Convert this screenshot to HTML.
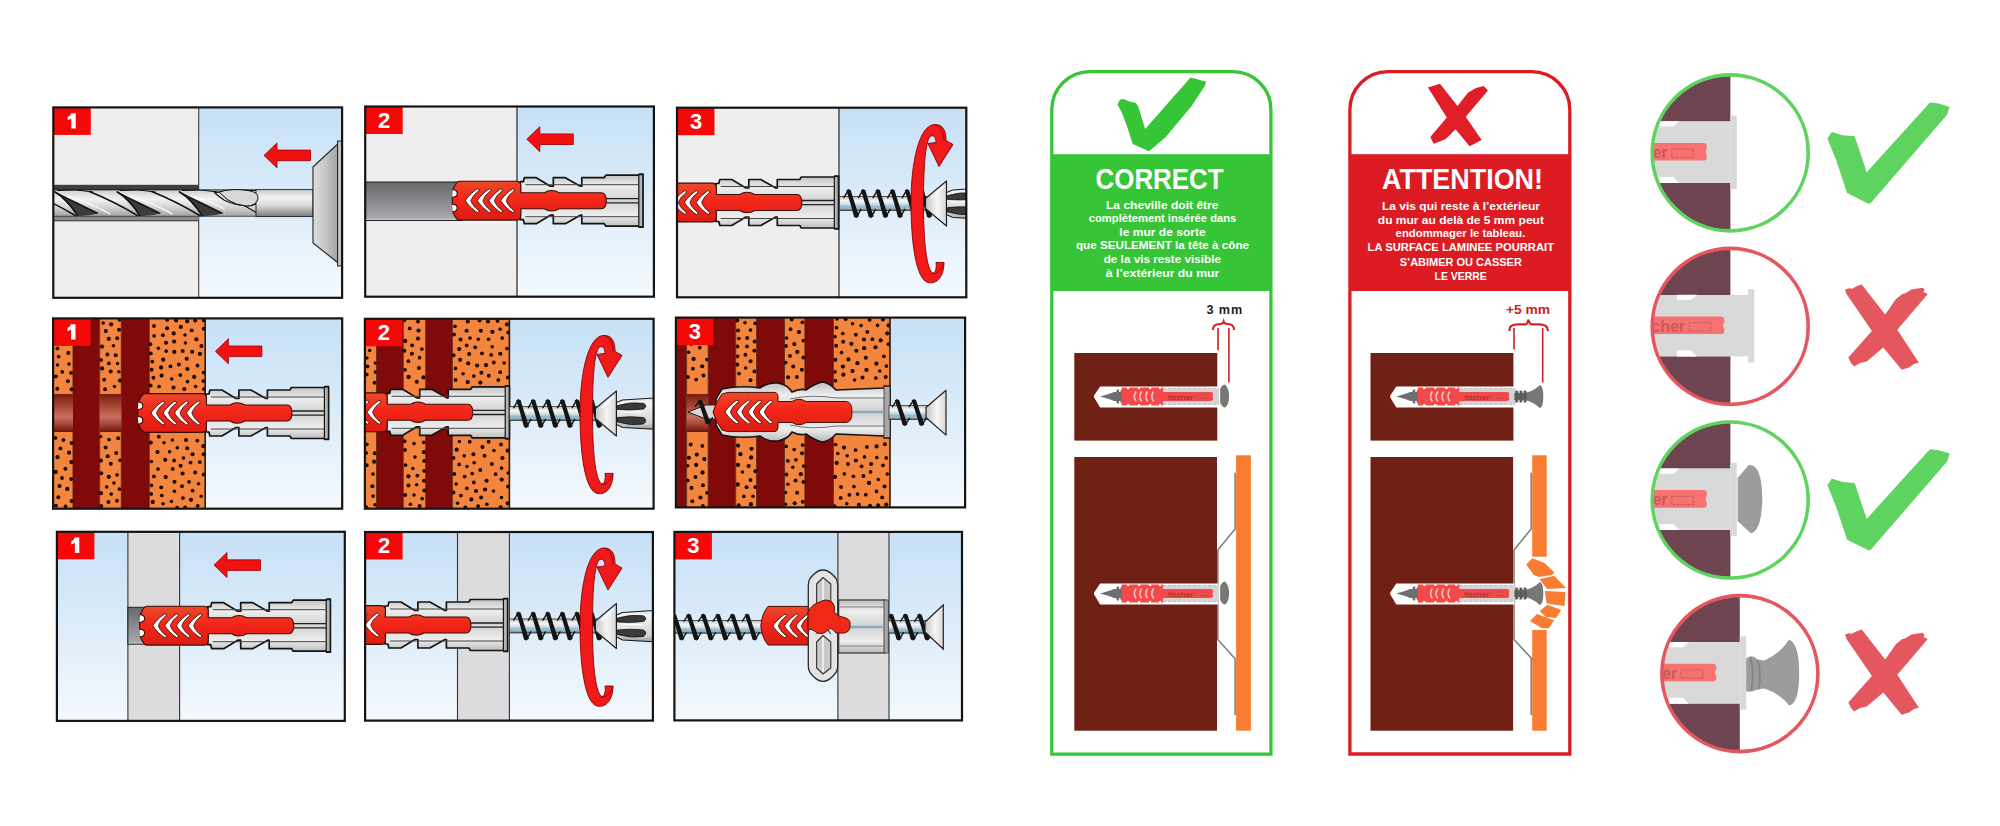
<!DOCTYPE html>
<html><head><meta charset="utf-8"><style>
html,body{margin:0;padding:0;background:#fff;overflow:hidden;width:2000px;height:826px;}
svg{display:block;}
text{font-family:"Liberation Sans",sans-serif;}
</style></head><body>
<svg width="2000" height="826" viewBox="0 0 2000 826">
<defs>
<linearGradient id="sky" x1="0" y1="0" x2="0" y2="1">
 <stop offset="0" stop-color="#c6e0f6"/><stop offset="0.5" stop-color="#dcecf9"/><stop offset="1" stop-color="#f4f9fd"/>
</linearGradient>
<linearGradient id="holeG" x1="0" y1="0" x2="0" y2="1">
 <stop offset="0" stop-color="#68686c"/><stop offset="0.5" stop-color="#8a8a8e"/><stop offset="0.93" stop-color="#a8a8ac"/><stop offset="1" stop-color="#d8d8d8"/>
</linearGradient>
<linearGradient id="brickHole" x1="0" y1="0" x2="0" y2="1">
 <stop offset="0" stop-color="#7a1a10"/><stop offset="0.4" stop-color="#b4503e"/><stop offset="0.6" stop-color="#c8705e"/><stop offset="0.85" stop-color="#9a3a2c"/><stop offset="1" stop-color="#6a140c"/>
</linearGradient>
<linearGradient id="metal" x1="0" y1="0" x2="0" y2="1">
 <stop offset="0" stop-color="#c8c8c8"/><stop offset="0.3" stop-color="#f4f4f4"/><stop offset="0.6" stop-color="#d8d8d8"/><stop offset="0.8" stop-color="#a9a9a9"/><stop offset="1" stop-color="#7a7a7a"/>
</linearGradient>
<linearGradient id="shankG" x1="0" y1="0" x2="0" y2="1">
 <stop offset="0" stop-color="#bcbcbc"/><stop offset="0.3" stop-color="#f6f6f6"/><stop offset="0.55" stop-color="#d4dde2"/><stop offset="0.7" stop-color="#8cc0de"/><stop offset="0.85" stop-color="#9ab6c6"/><stop offset="1" stop-color="#5a5a5a"/>
</linearGradient>
<linearGradient id="plugG" x1="0" y1="0" x2="0" y2="1">
 <stop offset="0" stop-color="#c0c0c0"/><stop offset="0.22" stop-color="#eeeeee"/><stop offset="0.45" stop-color="#d6d6d6"/><stop offset="0.55" stop-color="#d6d6d6"/><stop offset="0.78" stop-color="#eeeeee"/><stop offset="1" stop-color="#b8b8b8"/>
</linearGradient>
<linearGradient id="redG" x1="0" y1="0" x2="0" y2="1">
 <stop offset="0" stop-color="#ea4a2c"/><stop offset="0.45" stop-color="#f4261a"/><stop offset="1" stop-color="#dc1c12"/>
</linearGradient>
<linearGradient id="headG" x1="0" y1="0" x2="1" y2="0">
 <stop offset="0" stop-color="#c4c4c4"/><stop offset="0.55" stop-color="#f6f6f6"/><stop offset="1" stop-color="#d6d6d6"/>
</linearGradient>
<linearGradient id="chuckG" x1="0" y1="0" x2="1" y2="0">
 <stop offset="0" stop-color="#dedede"/><stop offset="0.5" stop-color="#c6c6c6"/><stop offset="1" stop-color="#a4a4a4"/>
</linearGradient>
<linearGradient id="drillG" x1="0" y1="0" x2="0" y2="1">
 <stop offset="0" stop-color="#d0d0d0"/><stop offset="0.35" stop-color="#f2f2f2"/><stop offset="0.7" stop-color="#cfcfcf"/><stop offset="1" stop-color="#a0a0a0"/>
</linearGradient>
<linearGradient id="bitG" x1="0" y1="0" x2="0" y2="1">
 <stop offset="0" stop-color="#c8c8c8"/><stop offset="0.15" stop-color="#f4f4f4"/><stop offset="0.5" stop-color="#e4e4e4"/><stop offset="0.8" stop-color="#d0d0d0"/><stop offset="1" stop-color="#8a8a8a"/>
</linearGradient></defs>
<rect width="2000" height="826" fill="#fff"/>
<clipPath id="cp1"><rect x="53.3" y="107.4" width="288.8" height="190.4"/></clipPath><g clip-path="url(#cp1)"><rect x="53.3" y="107.4" width="145.4" height="190.4" fill="#eeeeef" /><rect x="198.7" y="107.4" width="143.40000000000003" height="190.4" fill="url(#sky)"/><line x1="198.7" y1="107.4" x2="198.7" y2="297.8" stroke="#4a3a30" stroke-width="1.1"/><rect x="53.3" y="184.8" width="145.4" height="5.2" fill="#3e3e3e" /><rect x="53.3" y="214.0" width="145.4" height="6.8" fill="#8c8c8c" /><line x1="53.3" y1="220.8" x2="198.7" y2="220.8" stroke="#333" stroke-width="1"/><clipPath id="flc"><rect x="53.3" y="189.4" width="171.2" height="27.5"/></clipPath><g clip-path="url(#flc)"><rect x="53.3" y="189.9" width="208.7" height="26.4" fill="url(#drillG)" /><path d="M-7.0,192.3 Q15.0,202 37.0,213 Q27.0,216.5 15.600000000000001,216 Q3.0,200 -7.0,192.3 Z" fill="#3c3c3c"/><path d="M-8.0,191.5 Q5.0,199 15.600000000000001,216.3" fill="none" stroke="#111" stroke-width="1.5"/><path d="M-7.0,192.3 Q13.0,203 35.0,213.5" fill="none" stroke="#111" stroke-width="1.1"/><path d="M27.0,191.5 Q51.0,201 76.0,216" fill="none" stroke="#111" stroke-width="1.5"/><path d="M-5.0,190.5 Q13.0,188.5 31.0,192" fill="none" stroke="#111" stroke-width="1"/><path d="M5.0,196 Q28.0,203 48.0,214" fill="none" stroke="#fff" stroke-width="1.6" opacity="0.75"/><path d="M55.3,192.3 Q77.3,202 99.3,213 Q89.3,216.5 77.9,216 Q65.3,200 55.3,192.3 Z" fill="#3c3c3c"/><path d="M54.3,191.5 Q67.3,199 77.9,216.3" fill="none" stroke="#111" stroke-width="1.5"/><path d="M55.3,192.3 Q75.3,203 97.3,213.5" fill="none" stroke="#111" stroke-width="1.1"/><path d="M89.3,191.5 Q113.3,201 138.3,216" fill="none" stroke="#111" stroke-width="1.5"/><path d="M57.3,190.5 Q75.3,188.5 93.3,192" fill="none" stroke="#111" stroke-width="1"/><path d="M67.3,196 Q90.3,203 110.3,214" fill="none" stroke="#fff" stroke-width="1.6" opacity="0.75"/><path d="M117.6,192.3 Q139.6,202 161.6,213 Q151.6,216.5 140.2,216 Q127.6,200 117.6,192.3 Z" fill="#3c3c3c"/><path d="M116.6,191.5 Q129.6,199 140.2,216.3" fill="none" stroke="#111" stroke-width="1.5"/><path d="M117.6,192.3 Q137.6,203 159.6,213.5" fill="none" stroke="#111" stroke-width="1.1"/><path d="M151.6,191.5 Q175.6,201 200.6,216" fill="none" stroke="#111" stroke-width="1.5"/><path d="M119.6,190.5 Q137.6,188.5 155.6,192" fill="none" stroke="#111" stroke-width="1"/><path d="M129.6,196 Q152.6,203 172.6,214" fill="none" stroke="#fff" stroke-width="1.6" opacity="0.75"/><path d="M179.89999999999998,192.3 Q201.89999999999998,202 223.89999999999998,213 Q213.89999999999998,216.5 202.49999999999997,216 Q189.89999999999998,200 179.89999999999998,192.3 Z" fill="#3c3c3c"/><path d="M178.89999999999998,191.5 Q191.89999999999998,199 202.49999999999997,216.3" fill="none" stroke="#111" stroke-width="1.5"/><path d="M179.89999999999998,192.3 Q199.89999999999998,203 221.89999999999998,213.5" fill="none" stroke="#111" stroke-width="1.1"/><path d="M213.89999999999998,191.5 Q237.89999999999998,201 262.9,216" fill="none" stroke="#111" stroke-width="1.5"/><path d="M181.89999999999998,190.5 Q199.89999999999998,188.5 217.89999999999998,192" fill="none" stroke="#111" stroke-width="1"/><path d="M191.89999999999998,196 Q214.89999999999998,203 234.89999999999998,214" fill="none" stroke="#fff" stroke-width="1.6" opacity="0.75"/></g><rect x="224.3" y="189.9" width="33.7" height="26.4" fill="url(#drillG)" /><path d="M213.9,191.5 Q238,201 262,216" fill="none" stroke="#111" stroke-width="1.2"/><path d="M215,193 Q226,189.5 240,190 L256,190.5 Q262,193 260,199 Q257,206.5 246,206 Q234,205 224,200 Q219,197 215,193 Z" fill="#d6d6d6" stroke="#111" stroke-width="1.1"/><line x1="53.3" y1="189.9" x2="258" y2="189.9" stroke="#111" stroke-width="0.9"/><line x1="53.3" y1="216.3" x2="258" y2="216.3" stroke="#333" stroke-width="0.8"/><rect x="256.0" y="189.6" width="57.0" height="27.0" fill="url(#metal)" stroke="#222" stroke-width="0.9"/><path d="M219,192 Q232,188 248,190.5 Q259,192 258,199 Q256,206 246,206 Q236,205 228,200 Z" fill="#d8d8d8" stroke="#111" stroke-width="1"/><path d="M313,167 L337.6,144 L337.6,262.5 L313,243 Z" fill="url(#chuckG)" stroke="#222" stroke-width="1.1"/><rect x="337.6" y="141.0" width="5.4" height="125.0" fill="#c4c4c4" stroke="#222" stroke-width="1"/><g transform="translate(264 155.4)">
<path d="M0,0 L13,-12.5 L13,-5.3 L46.5,-5.3 L46.5,5.3 L13,5.3 L13,12.5 Z" fill="#f21010" stroke="#9a0000" stroke-width="0.8" stroke-linejoin="round"/>
</g><rect x="53.3" y="107.4" width="37.5" height="27.5" fill="#f40808"/><path transform="translate(53.3 107.4)" d="M18,5.8 L22.4,5.8 L22.4,21.2 L18,21.2 L18,11 Q16.5,12.3 14.4,12.6 L14.4,9.4 Q17,8.6 18,5.8 Z" fill="#fff"/></g><rect x="53.3" y="107.4" width="288.8" height="190.4" fill="none" stroke="#141414" stroke-width="2.2"/><clipPath id="cp2"><rect x="365.2" y="106.5" width="288.7" height="190.2"/></clipPath><g clip-path="url(#cp2)"><rect x="365.2" y="106.5" width="151.8" height="190.2" fill="#eeeeef" /><rect x="517" y="106.5" width="136.89999999999998" height="190.2" fill="url(#sky)"/><line x1="517" y1="106.5" x2="517" y2="296.7" stroke="#333" stroke-width="1.3"/><rect x="365.2" y="182.0" width="96.8" height="38.5" fill="url(#holeG)" stroke="#222" stroke-width="1"/><g transform="translate(452.3 200.7)">
<path d="M68,-19 L71,-19 L72,-23 L84,-23 L98,-14.5 L101,-14.5 L101,-23 L113,-23 L128,-14.5 L129.5,-14.5 L129.5,-23 L152,-23 L153.5,-25.5 L187,-25.5 L187,-26.5 L190.7,-26.5 L190.7,26.5 L187,26.5 L187,25.5 L153.5,25.5 L152,23 L129.5,23 L129.5,14.5 L128,14.5 L113,23 L101,23 L101,14.5 L98,14.5 L84,23 L72,23 L71,19 L68,19 Z" fill="url(#plugG)" stroke="#151515" stroke-width="1.7" stroke-linejoin="round"/>
<path d="M73,-16 L186,-16 M73,16 L186,16" stroke="#444" stroke-width="1" fill="none"/>
<path d="M150,-2 L187,-2 M150,2.2 L187,2.2" stroke="#222" stroke-width="1.3"/>
<rect x="186.5" y="-26" width="4" height="52" fill="#b4b4b4" stroke="#151515" stroke-width="1.2"/>
<path d="M0.5,-11 C6.5,-11 6.5,-3.5 0,-3.5 Z M0.5,11 C6.5,11 6.5,3.5 0,3.5 Z" fill="#fff"/>
<path d="M7,-19.4 L64,-19.4 Q68.5,-19.4 68.5,-15 L68.5,-8 L92,-8 Q99,-12.5 107,-8 L149,-8 Q154,-8 154,0 Q154,8 149,8 L107,8 Q99,12.5 92,8 L68.5,8 L68.5,15 Q68.5,19.4 64,19.4 L7,19.4 Q4,19.4 0.5,11 C6.5,11 6.5,3.5 0,3.5 L0,-3.5 C6.5,-3.5 6.5,-11 0.5,-11 Q4,-19.4 7,-19.4 Z" fill="url(#redG)" stroke="#3a0e06" stroke-width="1.1" stroke-linejoin="round"/>
<path d="M25.2,-12 C19.2,-8 14.7,-3 13.2,0 C14.7,3 19.2,8 25.2,12 L27.2,10.4 C22.2,7 19.7,3 18.7,0 C19.7,-3 22.2,-7 27.2,-10.4 Z" fill="#fff" stroke="#3a0e06" stroke-width="0.9" stroke-linejoin="round"/><path d="M37.2,-12 C31.2,-8 26.7,-3 25.2,0 C26.7,3 31.2,8 37.2,12 L39.2,10.4 C34.2,7 31.7,3 30.7,0 C31.7,-3 34.2,-7 39.2,-10.4 Z" fill="#fff" stroke="#3a0e06" stroke-width="0.9" stroke-linejoin="round"/><path d="M48.7,-12 C42.7,-8 38.2,-3 36.7,0 C38.2,3 42.7,8 48.7,12 L50.7,10.4 C45.7,7 43.2,3 42.2,0 C43.2,-3 45.7,-7 50.7,-10.4 Z" fill="#fff" stroke="#3a0e06" stroke-width="0.9" stroke-linejoin="round"/><path d="M60.5,-12 C54.5,-8 50.0,-3 48.5,0 C50.0,3 54.5,8 60.5,12 L62.5,10.4 C57.5,7 55.0,3 54.0,0 C55.0,-3 57.5,-7 62.5,-10.4 Z" fill="#fff" stroke="#3a0e06" stroke-width="0.9" stroke-linejoin="round"/>
</g><g transform="translate(526.8 139.2)">
<path d="M0,0 L13,-12.5 L13,-5.3 L46.5,-5.3 L46.5,5.3 L13,5.3 L13,12.5 Z" fill="#f21010" stroke="#9a0000" stroke-width="0.8" stroke-linejoin="round"/>
</g><rect x="365.2" y="106.5" width="37.5" height="27.5" fill="#f40808"/><text x="384.2" y="127.8" font-family="Liberation Sans" font-weight="bold" font-size="22" fill="#fff" text-anchor="middle">2</text></g><rect x="365.2" y="106.5" width="288.7" height="190.2" fill="none" stroke="#141414" stroke-width="2.2"/><clipPath id="cp3"><rect x="677" y="107.7" width="289.29999999999995" height="189.60000000000002"/></clipPath><g clip-path="url(#cp3)"><rect x="677.0" y="107.7" width="162.0" height="189.6" fill="#eeeeef" /><rect x="839" y="107.7" width="127.29999999999995" height="189.60000000000002" fill="url(#sky)"/><line x1="839" y1="107.7" x2="839" y2="297.3" stroke="#333" stroke-width="1.3"/><g transform="translate(647.8 202.5)">
<path d="M68,-19 L71,-19 L72,-23 L84,-23 L98,-14.5 L101,-14.5 L101,-23 L113,-23 L128,-14.5 L129.5,-14.5 L129.5,-23 L152,-23 L153.5,-25.5 L187,-25.5 L187,-26.5 L190.7,-26.5 L190.7,26.5 L187,26.5 L187,25.5 L153.5,25.5 L152,23 L129.5,23 L129.5,14.5 L128,14.5 L113,23 L101,23 L101,14.5 L98,14.5 L84,23 L72,23 L71,19 L68,19 Z" fill="url(#plugG)" stroke="#151515" stroke-width="1.7" stroke-linejoin="round"/>
<path d="M73,-16 L186,-16 M73,16 L186,16" stroke="#444" stroke-width="1" fill="none"/>
<path d="M150,-2 L187,-2 M150,2.2 L187,2.2" stroke="#222" stroke-width="1.3"/>
<rect x="186.5" y="-26" width="4" height="52" fill="#b4b4b4" stroke="#151515" stroke-width="1.2"/>
<path d="M0.5,-11 C6.5,-11 6.5,-3.5 0,-3.5 Z M0.5,11 C6.5,11 6.5,3.5 0,3.5 Z" fill="#fff"/>
<path d="M7,-19.4 L64,-19.4 Q68.5,-19.4 68.5,-15 L68.5,-8 L92,-8 Q99,-12.5 107,-8 L149,-8 Q154,-8 154,0 Q154,8 149,8 L107,8 Q99,12.5 92,8 L68.5,8 L68.5,15 Q68.5,19.4 64,19.4 L7,19.4 Q4,19.4 0.5,11 C6.5,11 6.5,3.5 0,3.5 L0,-3.5 C6.5,-3.5 6.5,-11 0.5,-11 Q4,-19.4 7,-19.4 Z" fill="url(#redG)" stroke="#3a0e06" stroke-width="1.1" stroke-linejoin="round"/>
<path d="M25.2,-12 C19.2,-8 14.7,-3 13.2,0 C14.7,3 19.2,8 25.2,12 L27.2,10.4 C22.2,7 19.7,3 18.7,0 C19.7,-3 22.2,-7 27.2,-10.4 Z" fill="#fff" stroke="#3a0e06" stroke-width="0.9" stroke-linejoin="round"/><path d="M37.2,-12 C31.2,-8 26.7,-3 25.2,0 C26.7,3 31.2,8 37.2,12 L39.2,10.4 C34.2,7 31.7,3 30.7,0 C31.7,-3 34.2,-7 39.2,-10.4 Z" fill="#fff" stroke="#3a0e06" stroke-width="0.9" stroke-linejoin="round"/><path d="M48.7,-12 C42.7,-8 38.2,-3 36.7,0 C38.2,3 42.7,8 48.7,12 L50.7,10.4 C45.7,7 43.2,3 42.2,0 C43.2,-3 45.7,-7 50.7,-10.4 Z" fill="#fff" stroke="#3a0e06" stroke-width="0.9" stroke-linejoin="round"/><path d="M60.5,-12 C54.5,-8 50.0,-3 48.5,0 C50.0,3 54.5,8 60.5,12 L62.5,10.4 C57.5,7 55.0,3 54.0,0 C55.0,-3 57.5,-7 62.5,-10.4 Z" fill="#fff" stroke="#3a0e06" stroke-width="0.9" stroke-linejoin="round"/>
</g><g transform="translate(839.5 203.5)">
<rect x="0" y="-7" width="90" height="14" fill="url(#shankG)" stroke="#333" stroke-width="0.8"/>
<path d="M6.8,-13.2 Q9.0,-14.8 11.2,-13.4 Q14.5,-2 19.6,12.8 Q17.0,15 14.6,13.6 Q11.5,1 6.8,-13.2 Z" fill="#141414"/><path d="M9.0,-13.7 L4.4,-5.8 M17.0,13.7 L21.4,5.8" stroke="#141414" stroke-width="1.4" fill="none" stroke-linecap="round"/><path d="M21.400000000000002,-13.2 Q23.6,-14.8 25.8,-13.4 Q29.1,-2 34.2,12.8 Q31.6,15 29.200000000000003,13.6 Q26.1,1 21.400000000000002,-13.2 Z" fill="#141414"/><path d="M23.6,-13.7 L19.0,-5.8 M31.6,13.7 L36.0,5.8" stroke="#141414" stroke-width="1.4" fill="none" stroke-linecap="round"/><path d="M36.0,-13.2 Q38.2,-14.8 40.400000000000006,-13.4 Q43.7,-2 48.800000000000004,12.8 Q46.2,15 43.800000000000004,13.6 Q40.7,1 36.0,-13.2 Z" fill="#141414"/><path d="M38.2,-13.7 L33.6,-5.8 M46.2,13.7 L50.6,5.8" stroke="#141414" stroke-width="1.4" fill="none" stroke-linecap="round"/><path d="M50.599999999999994,-13.2 Q52.8,-14.8 55.0,-13.4 Q58.3,-2 63.4,12.8 Q60.8,15 58.4,13.6 Q55.3,1 50.599999999999994,-13.2 Z" fill="#141414"/><path d="M52.8,-13.7 L48.199999999999996,-5.8 M60.8,13.7 L65.2,5.8" stroke="#141414" stroke-width="1.4" fill="none" stroke-linecap="round"/><path d="M65.2,-13.2 Q67.4,-14.8 69.60000000000001,-13.4 Q72.9,-2 78.0,12.8 Q75.4,15 73.0,13.6 Q69.9,1 65.2,-13.2 Z" fill="#141414"/><path d="M67.4,-13.7 L62.800000000000004,-5.8 M75.4,13.7 L79.80000000000001,5.8" stroke="#141414" stroke-width="1.4" fill="none" stroke-linecap="round"/><path d="M79.8,-13.2 Q82.0,-14.8 84.2,-13.4 Q87.5,-2 92.6,12.8 Q90.0,15 87.6,13.6 Q84.5,1 79.8,-13.2 Z" fill="#141414"/><path d="M82.0,-13.7 L77.4,-5.8 M90.0,13.7 L94.4,5.8" stroke="#141414" stroke-width="1.4" fill="none" stroke-linecap="round"/>
<path d="M86,-5 L107,-22.5 L107,22.5 L86,5 Z" fill="url(#headG)" stroke="#222" stroke-width="1.2" stroke-linejoin="round"/>
<path d="M92,-5 L104,-17" stroke="#fff" stroke-width="1.2"/>
</g><g transform="translate(946.5 203.5)">
<path d="M0,-11 L6,-13.5 L60,-17 L60,17 L6,14 L0,11 Z" fill="url(#bitG)" stroke="#1a1a1a" stroke-width="1.1"/>
<path d="M1,-8 Q14,-12 27,-10.2 Q31.5,-7.5 27,-4.5 Q14,-3 1,-4 Z" fill="#3a3a3a" stroke="#111" stroke-width="0.8"/>
<path d="M1,4 Q14,2.5 27,4 Q31.5,7 27,10.5 Q14,12.5 1,8.5 Z" fill="#3a3a3a" stroke="#111" stroke-width="0.8"/>
<path d="M4,-2 Q16,-1 26,-1.5" stroke="#fff" stroke-width="1.2" fill="none"/>
</g><g transform="translate(911 124.5)">
<path d="M33,138 C33,152 26,160 17,158 C5,155 0,118 0,78 C0,38 8,0 24,0 C32,0 35,6 35,16 L42,20 L28,42 L17,19 L25,18 C25,12 22,10 19,12 C14,18 12.5,46 12.5,78 C12.5,114 15,142 21,148 C24,150 26,144 25,138 Z" fill="#f01a1a" stroke="#8a0000" stroke-width="0.9" stroke-linejoin="round"/>
<path d="M24,0 C30,2 33,8 33,16" fill="none" stroke="#8a0000" stroke-width="0.8"/>
<path d="M21,149 C26,150 30,146 33,138" fill="none" stroke="#8a0000" stroke-width="0.8"/>
</g><rect x="677" y="107.7" width="37.5" height="27.5" fill="#f40808"/><text x="696" y="129.0" font-family="Liberation Sans" font-weight="bold" font-size="22" fill="#fff" text-anchor="middle">3</text></g><rect x="677" y="107.7" width="289.29999999999995" height="189.60000000000002" fill="none" stroke="#141414" stroke-width="2.2"/><clipPath id="cp4"><rect x="53.1" y="318.4" width="289.09999999999997" height="190.3"/></clipPath><g clip-path="url(#cp4)"><rect x="53.1" y="318.4" width="19.9" height="190.3" fill="#f3853f" /><rect x="73.0" y="318.4" width="26.7" height="190.3" fill="#800a0a" /><rect x="99.7" y="318.4" width="21.6" height="190.3" fill="#f3853f" /><rect x="121.3" y="318.4" width="28.0" height="190.3" fill="#800a0a" /><rect x="149.3" y="318.4" width="55.9" height="190.3" fill="#f3853f" /><g fill="#1a0804"><circle cx="65.4" cy="468.7" r="1.99"/><circle cx="55.8" cy="376.5" r="2.07"/><circle cx="55.7" cy="471.9" r="2.12"/><circle cx="66.5" cy="327.3" r="1.82"/><circle cx="71.7" cy="501.1" r="2.07"/><circle cx="56.9" cy="322.2" r="1.97"/><circle cx="57.5" cy="365.0" r="1.81"/><circle cx="62.0" cy="478.0" r="1.88"/><circle cx="63.4" cy="440.0" r="1.89"/><circle cx="62.3" cy="371.8" r="1.87"/><circle cx="69.1" cy="452.7" r="2.08"/><circle cx="59.3" cy="332.6" r="1.83"/><circle cx="71.2" cy="478.9" r="1.98"/><circle cx="55.4" cy="437.9" r="1.95"/><circle cx="71.4" cy="462.1" r="2.14"/><circle cx="68.4" cy="352.9" r="2.03"/><circle cx="57.5" cy="457.2" r="2.09"/><circle cx="59.5" cy="486.0" r="2.06"/><circle cx="55.9" cy="505.7" r="1.92"/><circle cx="67.9" cy="381.3" r="1.97"/><circle cx="57.4" cy="348.4" r="1.97"/><circle cx="57.3" cy="388.8" r="1.98"/><circle cx="64.3" cy="344.2" r="1.92"/><circle cx="71.7" cy="443.1" r="2.00"/><circle cx="67.3" cy="488.9" r="2.15"/><circle cx="60.4" cy="448.4" r="1.96"/><circle cx="69.0" cy="364.1" r="1.76"/><circle cx="70.3" cy="335.8" r="2.13"/><circle cx="58.6" cy="356.6" r="1.85"/><circle cx="58.3" cy="497.3" r="1.95"/><circle cx="54.8" cy="339.9" r="1.94"/><circle cx="65.5" cy="506.4" r="1.86"/><circle cx="71.1" cy="319.5" r="1.88"/><circle cx="71.1" cy="372.9" r="1.96"/><circle cx="71.7" cy="389.3" r="2.14"/><circle cx="105.8" cy="331.1" r="2.08"/><circle cx="120.0" cy="460.3" r="1.86"/><circle cx="108.5" cy="502.0" r="1.98"/><circle cx="111.2" cy="494.1" r="1.83"/><circle cx="111.1" cy="324.3" r="2.14"/><circle cx="113.4" cy="345.7" r="1.82"/><circle cx="101.2" cy="473.3" r="2.02"/><circle cx="119.0" cy="329.7" r="2.06"/><circle cx="120.0" cy="380.6" r="2.15"/><circle cx="110.8" cy="463.8" r="2.03"/><circle cx="105.6" cy="447.4" r="1.98"/><circle cx="115.7" cy="355.2" r="2.05"/><circle cx="103.2" cy="322.9" r="1.77"/><circle cx="118.2" cy="438.3" r="1.99"/><circle cx="100.8" cy="460.6" r="2.06"/><circle cx="116.2" cy="453.0" r="1.97"/><circle cx="117.5" cy="363.5" r="1.77"/><circle cx="105.1" cy="389.2" r="1.95"/><circle cx="102.1" cy="368.4" r="2.15"/><circle cx="107.7" cy="456.2" r="2.03"/><circle cx="119.5" cy="489.2" r="1.83"/><circle cx="107.4" cy="354.5" r="1.95"/><circle cx="108.8" cy="476.8" r="2.15"/><circle cx="117.1" cy="474.8" r="1.84"/><circle cx="102.0" cy="346.6" r="2.11"/><circle cx="101.1" cy="359.9" r="1.93"/><circle cx="100.9" cy="493.2" r="2.12"/><circle cx="104.2" cy="379.7" r="1.90"/><circle cx="117.0" cy="500.7" r="1.99"/><circle cx="114.5" cy="386.5" r="1.77"/><circle cx="109.0" cy="439.5" r="1.84"/><circle cx="110.7" cy="371.4" r="2.01"/><circle cx="106.7" cy="486.9" r="1.81"/><circle cx="119.5" cy="320.1" r="1.77"/><circle cx="117.2" cy="338.2" r="2.00"/><circle cx="118.9" cy="371.8" r="1.79"/><circle cx="101.2" cy="506.0" r="2.07"/><circle cx="108.8" cy="338.8" r="2.08"/><circle cx="100.7" cy="436.6" r="1.77"/><circle cx="108.9" cy="363.4" r="1.96"/><circle cx="114.0" cy="483.0" r="1.76"/><circle cx="163.1" cy="503.8" r="1.79"/><circle cx="158.4" cy="348.2" r="1.80"/><circle cx="162.9" cy="335.2" r="1.89"/><circle cx="192.6" cy="490.6" r="1.91"/><circle cx="170.5" cy="366.4" r="1.91"/><circle cx="163.2" cy="359.7" r="2.15"/><circle cx="182.9" cy="498.1" r="1.97"/><circle cx="171.7" cy="379.0" r="1.80"/><circle cx="150.8" cy="442.6" r="2.06"/><circle cx="183.5" cy="458.1" r="1.79"/><circle cx="165.2" cy="459.8" r="2.09"/><circle cx="153.9" cy="476.4" r="1.97"/><circle cx="191.7" cy="330.4" r="1.95"/><circle cx="203.6" cy="454.2" r="1.97"/><circle cx="161.8" cy="495.5" r="1.84"/><circle cx="194.2" cy="376.9" r="2.09"/><circle cx="152.8" cy="502.0" r="2.13"/><circle cx="184.3" cy="389.0" r="2.11"/><circle cx="174.4" cy="491.3" r="1.79"/><circle cx="197.7" cy="505.9" r="1.90"/><circle cx="186.0" cy="440.0" r="2.04"/><circle cx="192.5" cy="454.3" r="2.07"/><circle cx="197.5" cy="365.5" r="1.92"/><circle cx="169.6" cy="451.8" r="1.79"/><circle cx="182.7" cy="351.1" r="2.00"/><circle cx="198.6" cy="483.7" r="1.81"/><circle cx="165.7" cy="477.1" r="2.07"/><circle cx="157.5" cy="452.0" r="2.08"/><circle cx="203.3" cy="381.1" r="1.85"/><circle cx="159.1" cy="386.5" r="1.85"/><circle cx="185.1" cy="507.4" r="1.93"/><circle cx="196.4" cy="339.3" r="2.10"/><circle cx="151.3" cy="461.5" r="1.83"/><circle cx="166.2" cy="351.2" r="1.83"/><circle cx="201.2" cy="496.3" r="1.75"/><circle cx="173.7" cy="333.4" r="2.09"/><circle cx="177.3" cy="447.8" r="1.78"/><circle cx="186.7" cy="358.8" r="2.03"/><circle cx="182.6" cy="473.5" r="2.09"/><circle cx="185.4" cy="343.1" r="1.75"/><circle cx="204.1" cy="389.2" r="1.92"/><circle cx="154.0" cy="326.0" r="1.94"/><circle cx="172.4" cy="440.0" r="1.80"/><circle cx="197.3" cy="440.6" r="1.94"/><circle cx="161.6" cy="375.6" r="2.07"/><circle cx="174.5" cy="481.8" r="2.07"/><circle cx="189.0" cy="481.9" r="1.80"/><circle cx="191.0" cy="499.8" r="2.11"/><circle cx="174.3" cy="351.9" r="2.12"/><circle cx="203.7" cy="328.8" r="1.96"/><circle cx="154.1" cy="335.9" r="1.81"/><circle cx="171.4" cy="501.5" r="1.77"/><circle cx="187.2" cy="321.3" r="2.08"/><circle cx="151.4" cy="485.4" r="1.82"/><circle cx="190.5" cy="462.6" r="1.92"/><circle cx="180.3" cy="375.1" r="1.94"/><circle cx="167.2" cy="319.9" r="1.91"/><circle cx="174.1" cy="341.5" r="2.11"/><circle cx="150.8" cy="353.4" r="1.94"/><circle cx="164.0" cy="442.8" r="1.79"/><circle cx="180.8" cy="326.9" r="2.09"/><circle cx="173.5" cy="387.6" r="2.03"/><circle cx="174.1" cy="460.5" r="1.91"/><circle cx="195.6" cy="386.5" r="1.78"/><circle cx="178.9" cy="364.6" r="1.99"/><circle cx="192.2" cy="351.8" r="2.03"/><circle cx="158.0" cy="469.0" r="1.85"/><circle cx="195.2" cy="472.5" r="2.03"/><circle cx="158.8" cy="436.7" r="1.92"/><circle cx="199.9" cy="353.9" r="2.14"/><circle cx="187.4" cy="369.0" r="2.10"/><circle cx="195.2" cy="320.6" r="2.05"/><circle cx="161.2" cy="487.4" r="1.97"/><circle cx="151.6" cy="369.7" r="1.96"/><circle cx="199.8" cy="462.1" r="1.88"/><circle cx="150.5" cy="385.5" r="2.10"/><circle cx="182.0" cy="486.2" r="1.91"/><circle cx="151.1" cy="493.9" r="1.89"/><circle cx="176.1" cy="320.4" r="2.07"/><circle cx="172.7" cy="468.9" r="1.96"/><circle cx="167.1" cy="328.3" r="2.01"/><circle cx="152.3" cy="361.6" r="1.87"/><circle cx="203.8" cy="474.5" r="2.09"/><circle cx="187.2" cy="448.2" r="2.06"/><circle cx="161.1" cy="367.5" r="2.13"/><circle cx="203.9" cy="320.5" r="1.89"/><circle cx="150.3" cy="344.2" r="1.94"/><circle cx="187.5" cy="381.6" r="1.84"/><circle cx="201.4" cy="346.0" r="2.02"/><circle cx="185.0" cy="335.0" r="1.76"/><circle cx="203.7" cy="372.6" r="1.94"/><circle cx="166.0" cy="342.7" r="2.06"/><circle cx="203.4" cy="446.2" r="2.14"/><circle cx="153.4" cy="377.7" r="1.95"/><circle cx="180.6" cy="465.7" r="2.05"/><circle cx="177.1" cy="507.6" r="1.85"/></g><line x1="53.1" y1="318.4" x2="53.1" y2="508.7" stroke="#4a1a10" stroke-width="0.8"/><line x1="73" y1="318.4" x2="73" y2="508.7" stroke="#4a1a10" stroke-width="0.8"/><line x1="99.7" y1="318.4" x2="99.7" y2="508.7" stroke="#4a1a10" stroke-width="0.8"/><line x1="121.3" y1="318.4" x2="121.3" y2="508.7" stroke="#4a1a10" stroke-width="0.8"/><line x1="149.3" y1="318.4" x2="149.3" y2="508.7" stroke="#4a1a10" stroke-width="0.8"/><rect x="205.2" y="318.4" width="137.0" height="190.3" fill="url(#sky)"/><rect x="53.1" y="394.0" width="19.9" height="38.0" fill="url(#brickHole)" /><rect x="99.7" y="394.0" width="21.6" height="38.0" fill="url(#brickHole)" /><line x1="205.2" y1="318.4" x2="205.2" y2="508.7" stroke="#2a1a10" stroke-width="1.6"/><g transform="translate(137.9 413)">
<path d="M68,-19 L71,-19 L72,-23 L84,-23 L98,-14.5 L101,-14.5 L101,-23 L113,-23 L128,-14.5 L129.5,-14.5 L129.5,-23 L152,-23 L153.5,-25.5 L187,-25.5 L187,-26.5 L190.7,-26.5 L190.7,26.5 L187,26.5 L187,25.5 L153.5,25.5 L152,23 L129.5,23 L129.5,14.5 L128,14.5 L113,23 L101,23 L101,14.5 L98,14.5 L84,23 L72,23 L71,19 L68,19 Z" fill="url(#plugG)" stroke="#151515" stroke-width="1.7" stroke-linejoin="round"/>
<path d="M73,-16 L186,-16 M73,16 L186,16" stroke="#444" stroke-width="1" fill="none"/>
<path d="M150,-2 L187,-2 M150,2.2 L187,2.2" stroke="#222" stroke-width="1.3"/>
<rect x="186.5" y="-26" width="4" height="52" fill="#b4b4b4" stroke="#151515" stroke-width="1.2"/>
<path d="M0.5,-11 C6.5,-11 6.5,-3.5 0,-3.5 Z M0.5,11 C6.5,11 6.5,3.5 0,3.5 Z" fill="#fff"/>
<path d="M7,-19.4 L64,-19.4 Q68.5,-19.4 68.5,-15 L68.5,-8 L92,-8 Q99,-12.5 107,-8 L149,-8 Q154,-8 154,0 Q154,8 149,8 L107,8 Q99,12.5 92,8 L68.5,8 L68.5,15 Q68.5,19.4 64,19.4 L7,19.4 Q4,19.4 0.5,11 C6.5,11 6.5,3.5 0,3.5 L0,-3.5 C6.5,-3.5 6.5,-11 0.5,-11 Q4,-19.4 7,-19.4 Z" fill="url(#redG)" stroke="#3a0e06" stroke-width="1.1" stroke-linejoin="round"/>
<path d="M25.2,-12 C19.2,-8 14.7,-3 13.2,0 C14.7,3 19.2,8 25.2,12 L27.2,10.4 C22.2,7 19.7,3 18.7,0 C19.7,-3 22.2,-7 27.2,-10.4 Z" fill="#fff" stroke="#3a0e06" stroke-width="0.9" stroke-linejoin="round"/><path d="M37.2,-12 C31.2,-8 26.7,-3 25.2,0 C26.7,3 31.2,8 37.2,12 L39.2,10.4 C34.2,7 31.7,3 30.7,0 C31.7,-3 34.2,-7 39.2,-10.4 Z" fill="#fff" stroke="#3a0e06" stroke-width="0.9" stroke-linejoin="round"/><path d="M48.7,-12 C42.7,-8 38.2,-3 36.7,0 C38.2,3 42.7,8 48.7,12 L50.7,10.4 C45.7,7 43.2,3 42.2,0 C43.2,-3 45.7,-7 50.7,-10.4 Z" fill="#fff" stroke="#3a0e06" stroke-width="0.9" stroke-linejoin="round"/><path d="M60.5,-12 C54.5,-8 50.0,-3 48.5,0 C50.0,3 54.5,8 60.5,12 L62.5,10.4 C57.5,7 55.0,3 54.0,0 C55.0,-3 57.5,-7 62.5,-10.4 Z" fill="#fff" stroke="#3a0e06" stroke-width="0.9" stroke-linejoin="round"/>
</g><g transform="translate(215.4 351.3)">
<path d="M0,0 L13,-12.5 L13,-5.3 L46.5,-5.3 L46.5,5.3 L13,5.3 L13,12.5 Z" fill="#f21010" stroke="#9a0000" stroke-width="0.8" stroke-linejoin="round"/>
</g><rect x="53.1" y="318.4" width="37.5" height="27.5" fill="#f40808"/><path transform="translate(53.1 318.4)" d="M18,5.8 L22.4,5.8 L22.4,21.2 L18,21.2 L18,11 Q16.5,12.3 14.4,12.6 L14.4,9.4 Q17,8.6 18,5.8 Z" fill="#fff"/></g><rect x="53.1" y="318.4" width="289.09999999999997" height="190.3" fill="none" stroke="#141414" stroke-width="2.2"/><clipPath id="cp5"><rect x="364.9" y="318.8" width="288.70000000000005" height="189.89999999999998"/></clipPath><g clip-path="url(#cp5)"><rect x="364.9" y="318.8" width="11.7" height="189.9" fill="#f3853f" /><rect x="376.6" y="318.8" width="26.7" height="189.9" fill="#800a0a" /><rect x="403.3" y="318.8" width="22.4" height="189.9" fill="#f3853f" /><rect x="425.7" y="318.8" width="26.7" height="189.9" fill="#800a0a" /><rect x="452.4" y="318.8" width="57.0" height="189.9" fill="#f3853f" /><g fill="#1a0804"><circle cx="366.3" cy="507.2" r="1.83"/><circle cx="372.4" cy="486.3" r="2.07"/><circle cx="366.8" cy="374.6" r="1.82"/><circle cx="375.4" cy="363.1" r="1.80"/><circle cx="374.0" cy="338.9" r="1.81"/><circle cx="367.0" cy="334.3" r="1.91"/><circle cx="373.0" cy="474.0" r="1.87"/><circle cx="374.8" cy="324.1" r="1.96"/><circle cx="369.7" cy="350.4" r="1.75"/><circle cx="366.9" cy="358.1" r="1.76"/><circle cx="374.8" cy="453.2" r="1.97"/><circle cx="366.6" cy="465.3" r="2.04"/><circle cx="366.8" cy="444.3" r="1.92"/><circle cx="373.1" cy="496.1" r="1.88"/><circle cx="366.0" cy="453.0" r="2.05"/><circle cx="374.1" cy="461.7" r="2.10"/><circle cx="366.8" cy="321.6" r="1.94"/><circle cx="375.4" cy="372.1" r="1.79"/><circle cx="374.6" cy="382.8" r="2.06"/><circle cx="366.0" cy="342.5" r="1.99"/><circle cx="367.4" cy="366.4" r="1.96"/><circle cx="375.1" cy="504.7" r="1.79"/><circle cx="421.9" cy="349.1" r="1.89"/><circle cx="424.0" cy="480.7" r="2.04"/><circle cx="408.5" cy="485.4" r="2.00"/><circle cx="417.4" cy="475.6" r="1.92"/><circle cx="418.5" cy="330.6" r="2.12"/><circle cx="418.0" cy="338.6" r="2.12"/><circle cx="419.6" cy="506.1" r="2.06"/><circle cx="410.4" cy="504.2" r="1.81"/><circle cx="408.4" cy="476.3" r="2.15"/><circle cx="405.6" cy="465.1" r="1.88"/><circle cx="405.0" cy="369.8" r="1.91"/><circle cx="419.6" cy="357.7" r="1.85"/><circle cx="418.0" cy="321.5" r="1.93"/><circle cx="405.2" cy="341.0" r="2.15"/><circle cx="415.0" cy="457.1" r="1.81"/><circle cx="414.0" cy="443.6" r="1.79"/><circle cx="416.8" cy="381.8" r="1.99"/><circle cx="424.2" cy="461.1" r="2.00"/><circle cx="418.9" cy="368.0" r="2.10"/><circle cx="411.9" cy="353.8" r="2.03"/><circle cx="414.0" cy="495.0" r="1.80"/><circle cx="408.6" cy="377.0" r="2.15"/><circle cx="409.7" cy="328.4" r="1.94"/><circle cx="412.9" cy="468.5" r="1.76"/><circle cx="408.4" cy="361.2" r="1.84"/><circle cx="423.9" cy="452.2" r="2.11"/><circle cx="424.3" cy="490.4" r="2.00"/><circle cx="405.1" cy="495.0" r="2.10"/><circle cx="404.5" cy="320.1" r="2.09"/><circle cx="405.0" cy="450.0" r="1.88"/><circle cx="423.5" cy="377.4" r="2.15"/><circle cx="424.2" cy="470.9" r="1.88"/><circle cx="412.1" cy="345.3" r="1.89"/><circle cx="404.3" cy="350.8" r="2.06"/><circle cx="423.7" cy="442.4" r="1.78"/><circle cx="416.7" cy="484.8" r="1.78"/><circle cx="404.5" cy="441.2" r="2.05"/><circle cx="422.2" cy="498.6" r="1.90"/><circle cx="497.5" cy="320.9" r="1.87"/><circle cx="466.7" cy="345.4" r="1.84"/><circle cx="507.9" cy="377.6" r="2.01"/><circle cx="459.2" cy="349.1" r="2.09"/><circle cx="482.5" cy="447.1" r="2.09"/><circle cx="484.5" cy="455.8" r="1.93"/><circle cx="467.8" cy="321.5" r="2.04"/><circle cx="501.5" cy="468.1" r="1.90"/><circle cx="456.2" cy="484.1" r="1.78"/><circle cx="488.0" cy="321.5" r="2.10"/><circle cx="456.7" cy="449.7" r="2.12"/><circle cx="466.6" cy="330.7" r="2.05"/><circle cx="460.9" cy="495.6" r="1.96"/><circle cx="495.6" cy="474.2" r="1.87"/><circle cx="501.5" cy="497.5" r="1.82"/><circle cx="460.5" cy="339.5" r="2.01"/><circle cx="477.1" cy="365.5" r="2.11"/><circle cx="473.4" cy="454.3" r="2.01"/><circle cx="502.2" cy="338.1" r="1.89"/><circle cx="455.5" cy="368.4" r="1.79"/><circle cx="476.0" cy="491.0" r="2.12"/><circle cx="508.1" cy="486.5" r="2.01"/><circle cx="480.3" cy="470.0" r="1.92"/><circle cx="486.9" cy="504.2" r="1.80"/><circle cx="493.5" cy="491.1" r="1.83"/><circle cx="488.8" cy="375.8" r="1.97"/><circle cx="459.2" cy="464.4" r="1.84"/><circle cx="460.2" cy="359.8" r="2.10"/><circle cx="501.7" cy="479.6" r="2.13"/><circle cx="455.6" cy="379.9" r="1.94"/><circle cx="500.2" cy="372.2" r="1.92"/><circle cx="478.1" cy="506.1" r="1.97"/><circle cx="464.7" cy="476.6" r="1.86"/><circle cx="493.8" cy="362.5" r="1.94"/><circle cx="501.0" cy="444.6" r="2.00"/><circle cx="500.6" cy="507.4" r="2.14"/><circle cx="455.0" cy="326.3" r="1.87"/><circle cx="492.2" cy="346.8" r="1.75"/><circle cx="492.4" cy="331.8" r="2.10"/><circle cx="478.3" cy="339.2" r="1.82"/><circle cx="469.2" cy="354.0" r="2.02"/><circle cx="493.9" cy="450.5" r="1.79"/><circle cx="504.2" cy="362.9" r="1.77"/><circle cx="473.8" cy="482.4" r="1.94"/><circle cx="500.3" cy="353.8" r="2.05"/><circle cx="507.0" cy="348.5" r="1.84"/><circle cx="482.0" cy="353.4" r="1.94"/><circle cx="473.8" cy="376.1" r="1.84"/><circle cx="491.8" cy="464.1" r="1.98"/><circle cx="480.3" cy="382.6" r="2.12"/><circle cx="468.2" cy="363.4" r="2.09"/><circle cx="464.2" cy="455.8" r="1.83"/><circle cx="498.3" cy="380.1" r="1.97"/><circle cx="480.8" cy="330.7" r="2.01"/><circle cx="454.2" cy="474.1" r="2.02"/><circle cx="506.9" cy="324.4" r="2.04"/><circle cx="469.7" cy="441.8" r="1.97"/><circle cx="486.6" cy="480.8" r="2.04"/><circle cx="467.7" cy="382.1" r="2.14"/><circle cx="466.9" cy="488.3" r="1.86"/><circle cx="488.6" cy="339.3" r="1.78"/><circle cx="474.2" cy="462.7" r="1.81"/><circle cx="457.6" cy="503.2" r="1.81"/><circle cx="465.4" cy="507.6" r="2.00"/><circle cx="507.7" cy="450.7" r="2.11"/><circle cx="486.0" cy="365.1" r="2.13"/><circle cx="479.6" cy="320.5" r="1.99"/><circle cx="471.4" cy="499.4" r="2.08"/><circle cx="485.1" cy="489.5" r="2.12"/><circle cx="472.2" cy="473.6" r="1.86"/><circle cx="502.4" cy="458.0" r="2.12"/><circle cx="475.2" cy="347.3" r="1.87"/><circle cx="463.1" cy="373.8" r="1.80"/><circle cx="488.6" cy="441.8" r="1.94"/><circle cx="481.2" cy="497.5" r="1.98"/><circle cx="459.4" cy="441.6" r="1.77"/><circle cx="453.6" cy="355.3" r="1.93"/><circle cx="481.4" cy="372.7" r="2.02"/><circle cx="467.0" cy="466.6" r="1.75"/><circle cx="491.2" cy="354.9" r="1.94"/><circle cx="500.1" cy="329.2" r="1.81"/><circle cx="507.7" cy="503.3" r="2.09"/><circle cx="453.5" cy="492.5" r="1.94"/><circle cx="453.5" cy="457.9" r="1.99"/><circle cx="453.9" cy="334.5" r="1.99"/><circle cx="508.2" cy="473.1" r="1.75"/><circle cx="470.0" cy="338.0" r="1.84"/><circle cx="508.3" cy="332.5" r="2.01"/></g><line x1="364.9" y1="318.8" x2="364.9" y2="508.7" stroke="#4a1a10" stroke-width="0.8"/><line x1="376.6" y1="318.8" x2="376.6" y2="508.7" stroke="#4a1a10" stroke-width="0.8"/><line x1="403.3" y1="318.8" x2="403.3" y2="508.7" stroke="#4a1a10" stroke-width="0.8"/><line x1="425.7" y1="318.8" x2="425.7" y2="508.7" stroke="#4a1a10" stroke-width="0.8"/><line x1="452.4" y1="318.8" x2="452.4" y2="508.7" stroke="#4a1a10" stroke-width="0.8"/><rect x="509.4" y="318.8" width="144.20000000000005" height="189.89999999999998" fill="url(#sky)"/><line x1="509.4" y1="318.8" x2="509.4" y2="508.7" stroke="#2a1a10" stroke-width="1.6"/><g transform="translate(318.7 412.3)">
<path d="M68,-19 L71,-19 L72,-23 L84,-23 L98,-14.5 L101,-14.5 L101,-23 L113,-23 L128,-14.5 L129.5,-14.5 L129.5,-23 L152,-23 L153.5,-25.5 L187,-25.5 L187,-26.5 L190.7,-26.5 L190.7,26.5 L187,26.5 L187,25.5 L153.5,25.5 L152,23 L129.5,23 L129.5,14.5 L128,14.5 L113,23 L101,23 L101,14.5 L98,14.5 L84,23 L72,23 L71,19 L68,19 Z" fill="url(#plugG)" stroke="#151515" stroke-width="1.7" stroke-linejoin="round"/>
<path d="M73,-16 L186,-16 M73,16 L186,16" stroke="#444" stroke-width="1" fill="none"/>
<path d="M150,-2 L187,-2 M150,2.2 L187,2.2" stroke="#222" stroke-width="1.3"/>
<rect x="186.5" y="-26" width="4" height="52" fill="#b4b4b4" stroke="#151515" stroke-width="1.2"/>
<path d="M0.5,-11 C6.5,-11 6.5,-3.5 0,-3.5 Z M0.5,11 C6.5,11 6.5,3.5 0,3.5 Z" fill="#fff"/>
<path d="M7,-19.4 L64,-19.4 Q68.5,-19.4 68.5,-15 L68.5,-8 L92,-8 Q99,-12.5 107,-8 L149,-8 Q154,-8 154,0 Q154,8 149,8 L107,8 Q99,12.5 92,8 L68.5,8 L68.5,15 Q68.5,19.4 64,19.4 L7,19.4 Q4,19.4 0.5,11 C6.5,11 6.5,3.5 0,3.5 L0,-3.5 C6.5,-3.5 6.5,-11 0.5,-11 Q4,-19.4 7,-19.4 Z" fill="url(#redG)" stroke="#3a0e06" stroke-width="1.1" stroke-linejoin="round"/>
<path d="M25.2,-12 C19.2,-8 14.7,-3 13.2,0 C14.7,3 19.2,8 25.2,12 L27.2,10.4 C22.2,7 19.7,3 18.7,0 C19.7,-3 22.2,-7 27.2,-10.4 Z" fill="#fff" stroke="#3a0e06" stroke-width="0.9" stroke-linejoin="round"/><path d="M37.2,-12 C31.2,-8 26.7,-3 25.2,0 C26.7,3 31.2,8 37.2,12 L39.2,10.4 C34.2,7 31.7,3 30.7,0 C31.7,-3 34.2,-7 39.2,-10.4 Z" fill="#fff" stroke="#3a0e06" stroke-width="0.9" stroke-linejoin="round"/><path d="M48.7,-12 C42.7,-8 38.2,-3 36.7,0 C38.2,3 42.7,8 48.7,12 L50.7,10.4 C45.7,7 43.2,3 42.2,0 C43.2,-3 45.7,-7 50.7,-10.4 Z" fill="#fff" stroke="#3a0e06" stroke-width="0.9" stroke-linejoin="round"/><path d="M60.5,-12 C54.5,-8 50.0,-3 48.5,0 C50.0,3 54.5,8 60.5,12 L62.5,10.4 C57.5,7 55.0,3 54.0,0 C55.0,-3 57.5,-7 62.5,-10.4 Z" fill="#fff" stroke="#3a0e06" stroke-width="0.9" stroke-linejoin="round"/>
</g><g transform="translate(509.4 413.5)">
<rect x="0" y="-7" width="90" height="14" fill="url(#shankG)" stroke="#333" stroke-width="0.8"/>
<path d="M6.8,-13.2 Q9.0,-14.8 11.2,-13.4 Q14.5,-2 19.6,12.8 Q17.0,15 14.6,13.6 Q11.5,1 6.8,-13.2 Z" fill="#141414"/><path d="M9.0,-13.7 L4.4,-5.8 M17.0,13.7 L21.4,5.8" stroke="#141414" stroke-width="1.4" fill="none" stroke-linecap="round"/><path d="M21.400000000000002,-13.2 Q23.6,-14.8 25.8,-13.4 Q29.1,-2 34.2,12.8 Q31.6,15 29.200000000000003,13.6 Q26.1,1 21.400000000000002,-13.2 Z" fill="#141414"/><path d="M23.6,-13.7 L19.0,-5.8 M31.6,13.7 L36.0,5.8" stroke="#141414" stroke-width="1.4" fill="none" stroke-linecap="round"/><path d="M36.0,-13.2 Q38.2,-14.8 40.400000000000006,-13.4 Q43.7,-2 48.800000000000004,12.8 Q46.2,15 43.800000000000004,13.6 Q40.7,1 36.0,-13.2 Z" fill="#141414"/><path d="M38.2,-13.7 L33.6,-5.8 M46.2,13.7 L50.6,5.8" stroke="#141414" stroke-width="1.4" fill="none" stroke-linecap="round"/><path d="M50.599999999999994,-13.2 Q52.8,-14.8 55.0,-13.4 Q58.3,-2 63.4,12.8 Q60.8,15 58.4,13.6 Q55.3,1 50.599999999999994,-13.2 Z" fill="#141414"/><path d="M52.8,-13.7 L48.199999999999996,-5.8 M60.8,13.7 L65.2,5.8" stroke="#141414" stroke-width="1.4" fill="none" stroke-linecap="round"/><path d="M65.2,-13.2 Q67.4,-14.8 69.60000000000001,-13.4 Q72.9,-2 78.0,12.8 Q75.4,15 73.0,13.6 Q69.9,1 65.2,-13.2 Z" fill="#141414"/><path d="M67.4,-13.7 L62.800000000000004,-5.8 M75.4,13.7 L79.80000000000001,5.8" stroke="#141414" stroke-width="1.4" fill="none" stroke-linecap="round"/><path d="M79.8,-13.2 Q82.0,-14.8 84.2,-13.4 Q87.5,-2 92.6,12.8 Q90.0,15 87.6,13.6 Q84.5,1 79.8,-13.2 Z" fill="#141414"/><path d="M82.0,-13.7 L77.4,-5.8 M90.0,13.7 L94.4,5.8" stroke="#141414" stroke-width="1.4" fill="none" stroke-linecap="round"/>
<path d="M86,-5 L107,-22.5 L107,22.5 L86,5 Z" fill="url(#headG)" stroke="#222" stroke-width="1.2" stroke-linejoin="round"/>
<path d="M92,-5 L104,-17" stroke="#fff" stroke-width="1.2"/>
</g><g transform="translate(616.5 413.5)">
<path d="M0,-11 L6,-13.5 L60,-17 L60,17 L6,14 L0,11 Z" fill="url(#bitG)" stroke="#1a1a1a" stroke-width="1.1"/>
<path d="M1,-8 Q14,-12 27,-10.2 Q31.5,-7.5 27,-4.5 Q14,-3 1,-4 Z" fill="#3a3a3a" stroke="#111" stroke-width="0.8"/>
<path d="M1,4 Q14,2.5 27,4 Q31.5,7 27,10.5 Q14,12.5 1,8.5 Z" fill="#3a3a3a" stroke="#111" stroke-width="0.8"/>
<path d="M4,-2 Q16,-1 26,-1.5" stroke="#fff" stroke-width="1.2" fill="none"/>
</g><g transform="translate(580 335.4)">
<path d="M33,138 C33,152 26,160 17,158 C5,155 0,118 0,78 C0,38 8,0 24,0 C32,0 35,6 35,16 L42,20 L28,42 L17,19 L25,18 C25,12 22,10 19,12 C14,18 12.5,46 12.5,78 C12.5,114 15,142 21,148 C24,150 26,144 25,138 Z" fill="#f01a1a" stroke="#8a0000" stroke-width="0.9" stroke-linejoin="round"/>
<path d="M24,0 C30,2 33,8 33,16" fill="none" stroke="#8a0000" stroke-width="0.8"/>
<path d="M21,149 C26,150 30,146 33,138" fill="none" stroke="#8a0000" stroke-width="0.8"/>
</g><rect x="364.9" y="318.8" width="37.5" height="27.5" fill="#f40808"/><text x="383.9" y="340.1" font-family="Liberation Sans" font-weight="bold" font-size="22" fill="#fff" text-anchor="middle">2</text></g><rect x="364.9" y="318.8" width="288.70000000000005" height="189.89999999999998" fill="none" stroke="#141414" stroke-width="2.2"/><clipPath id="cp6"><rect x="675.9" y="317.6" width="289.20000000000005" height="189.79999999999995"/></clipPath><g clip-path="url(#cp6)"><rect x="675.9" y="317.6" width="10.7" height="189.8" fill="#800a0a" /><rect x="686.6" y="317.6" width="21.6" height="189.8" fill="#f3853f" /><rect x="708.2" y="317.6" width="27.5" height="189.8" fill="#800a0a" /><rect x="735.7" y="317.6" width="20.9" height="189.8" fill="#f3853f" /><rect x="756.6" y="317.6" width="27.9" height="189.8" fill="#800a0a" /><rect x="784.5" y="317.6" width="20.4" height="189.8" fill="#f3853f" /><rect x="804.9" y="317.6" width="28.5" height="189.8" fill="#800a0a" /><rect x="833.4" y="317.6" width="56.6" height="189.8" fill="#f3853f" /><g fill="#1a0804"><circle cx="702.4" cy="445.9" r="1.94"/><circle cx="696.2" cy="379.6" r="1.90"/><circle cx="699.8" cy="347.6" r="1.86"/><circle cx="696.2" cy="464.9" r="2.08"/><circle cx="687.7" cy="465.8" r="1.79"/><circle cx="703.0" cy="485.3" r="2.03"/><circle cx="702.9" cy="506.0" r="1.91"/><circle cx="704.8" cy="333.4" r="1.85"/><circle cx="691.5" cy="487.9" r="2.07"/><circle cx="700.5" cy="497.5" r="2.07"/><circle cx="706.8" cy="359.6" r="1.81"/><circle cx="693.6" cy="358.9" r="2.08"/><circle cx="693.0" cy="368.7" r="1.91"/><circle cx="694.2" cy="324.3" r="1.93"/><circle cx="695.5" cy="477.0" r="1.96"/><circle cx="703.5" cy="375.5" r="1.94"/><circle cx="693.2" cy="334.7" r="2.00"/><circle cx="692.3" cy="501.2" r="2.00"/><circle cx="704.3" cy="321.3" r="1.78"/><circle cx="696.8" cy="454.6" r="2.05"/><circle cx="704.3" cy="459.1" r="2.15"/><circle cx="687.8" cy="376.9" r="2.02"/><circle cx="702.5" cy="472.5" r="2.13"/><circle cx="690.7" cy="444.4" r="2.02"/><circle cx="691.2" cy="343.8" r="2.10"/><circle cx="688.6" cy="352.3" r="1.80"/><circle cx="688.9" cy="457.8" r="2.01"/><circle cx="702.2" cy="366.2" r="2.07"/><circle cx="687.9" cy="319.2" r="1.93"/><circle cx="705.8" cy="341.5" r="1.80"/><circle cx="687.7" cy="480.5" r="1.93"/><circle cx="687.7" cy="328.9" r="2.12"/><circle cx="707.0" cy="492.8" r="1.87"/><circle cx="753.0" cy="496.2" r="1.82"/><circle cx="747.2" cy="338.1" r="1.99"/><circle cx="738.0" cy="330.5" r="2.12"/><circle cx="737.4" cy="346.5" r="2.00"/><circle cx="737.7" cy="484.5" r="2.15"/><circle cx="750.6" cy="361.3" r="1.99"/><circle cx="739.0" cy="373.6" r="1.85"/><circle cx="737.5" cy="356.3" r="1.90"/><circle cx="743.8" cy="496.4" r="1.81"/><circle cx="748.6" cy="466.1" r="2.04"/><circle cx="740.4" cy="454.2" r="2.12"/><circle cx="751.5" cy="448.7" r="2.06"/><circle cx="750.9" cy="504.2" r="2.09"/><circle cx="755.3" cy="323.3" r="1.92"/><circle cx="745.0" cy="322.7" r="1.77"/><circle cx="754.4" cy="371.4" r="1.94"/><circle cx="750.5" cy="380.2" r="1.99"/><circle cx="750.5" cy="480.0" r="1.96"/><circle cx="750.5" cy="330.0" r="1.87"/><circle cx="738.7" cy="505.3" r="2.02"/><circle cx="742.4" cy="472.0" r="1.80"/><circle cx="745.7" cy="368.0" r="1.80"/><circle cx="754.7" cy="341.5" r="2.10"/><circle cx="754.3" cy="350.7" r="1.92"/><circle cx="746.6" cy="487.2" r="2.04"/><circle cx="755.3" cy="487.2" r="1.85"/><circle cx="751.1" cy="457.5" r="2.13"/><circle cx="738.0" cy="445.6" r="2.14"/><circle cx="738.0" cy="464.9" r="2.12"/><circle cx="737.2" cy="364.6" r="2.05"/><circle cx="747.0" cy="346.4" r="1.91"/><circle cx="755.4" cy="471.3" r="2.01"/><circle cx="737.2" cy="320.4" r="2.07"/><circle cx="738.9" cy="338.5" r="1.84"/><circle cx="745.4" cy="354.7" r="1.98"/><circle cx="801.9" cy="369.8" r="2.01"/><circle cx="790.0" cy="355.9" r="1.93"/><circle cx="803.3" cy="340.6" r="1.85"/><circle cx="791.7" cy="319.5" r="2.04"/><circle cx="794.3" cy="344.1" r="2.04"/><circle cx="802.4" cy="322.3" r="1.89"/><circle cx="794.2" cy="449.6" r="1.83"/><circle cx="792.8" cy="467.3" r="1.75"/><circle cx="794.7" cy="503.3" r="2.05"/><circle cx="796.9" cy="377.0" r="1.89"/><circle cx="795.6" cy="480.5" r="2.06"/><circle cx="795.9" cy="459.8" r="1.83"/><circle cx="797.1" cy="492.8" r="2.02"/><circle cx="797.3" cy="351.9" r="2.14"/><circle cx="788.1" cy="377.2" r="1.99"/><circle cx="803.4" cy="357.5" r="1.99"/><circle cx="790.6" cy="329.2" r="1.89"/><circle cx="803.7" cy="466.1" r="1.88"/><circle cx="786.0" cy="346.0" r="1.98"/><circle cx="785.6" cy="492.6" r="1.79"/><circle cx="786.4" cy="474.5" r="1.95"/><circle cx="787.9" cy="460.8" r="1.91"/><circle cx="786.2" cy="446.4" r="1.79"/><circle cx="793.2" cy="366.4" r="2.00"/><circle cx="802.1" cy="453.2" r="2.02"/><circle cx="799.0" cy="332.0" r="2.07"/><circle cx="803.6" cy="482.0" r="2.11"/><circle cx="787.9" cy="484.2" r="1.81"/><circle cx="786.5" cy="338.0" r="1.85"/><circle cx="802.8" cy="501.7" r="1.96"/><circle cx="802.7" cy="445.1" r="1.93"/><circle cx="785.6" cy="504.2" r="1.76"/><circle cx="800.8" cy="474.2" r="2.12"/><circle cx="785.6" cy="362.6" r="1.86"/><circle cx="835.0" cy="371.9" r="1.79"/><circle cx="855.6" cy="450.1" r="1.96"/><circle cx="852.6" cy="323.7" r="1.80"/><circle cx="853.9" cy="486.6" r="1.88"/><circle cx="876.4" cy="363.7" r="2.14"/><circle cx="842.9" cy="366.6" r="2.13"/><circle cx="865.8" cy="357.7" r="2.06"/><circle cx="853.4" cy="476.3" r="1.86"/><circle cx="876.6" cy="446.4" r="2.10"/><circle cx="844.0" cy="447.6" r="2.06"/><circle cx="852.5" cy="371.0" r="2.05"/><circle cx="870.0" cy="505.8" r="1.99"/><circle cx="855.8" cy="334.8" r="1.94"/><circle cx="887.2" cy="333.3" r="2.09"/><circle cx="883.0" cy="465.4" r="1.94"/><circle cx="849.4" cy="494.8" r="1.92"/><circle cx="863.9" cy="339.5" r="2.11"/><circle cx="877.5" cy="325.4" r="1.79"/><circle cx="863.4" cy="476.0" r="1.99"/><circle cx="866.5" cy="369.9" r="2.14"/><circle cx="846.8" cy="503.7" r="1.78"/><circle cx="835.1" cy="336.7" r="1.76"/><circle cx="882.2" cy="497.4" r="1.93"/><circle cx="864.5" cy="456.9" r="1.80"/><circle cx="865.8" cy="494.7" r="1.91"/><circle cx="875.5" cy="347.3" r="2.11"/><circle cx="886.2" cy="457.9" r="1.90"/><circle cx="876.5" cy="491.4" r="1.92"/><circle cx="835.0" cy="476.9" r="2.10"/><circle cx="875.8" cy="378.0" r="1.87"/><circle cx="837.0" cy="318.8" r="1.84"/><circle cx="885.7" cy="377.0" r="1.98"/><circle cx="841.5" cy="352.6" r="1.81"/><circle cx="835.7" cy="444.5" r="1.87"/><circle cx="857.5" cy="363.2" r="2.11"/><circle cx="847.2" cy="455.7" r="1.79"/><circle cx="854.6" cy="380.0" r="1.79"/><circle cx="851.4" cy="343.8" r="2.09"/><circle cx="878.3" cy="479.6" r="1.76"/><circle cx="887.3" cy="474.1" r="1.83"/><circle cx="842.8" cy="333.5" r="1.84"/><circle cx="871.1" cy="463.9" r="2.01"/><circle cx="836.7" cy="462.9" r="2.11"/><circle cx="836.2" cy="345.7" r="1.94"/><circle cx="840.7" cy="497.9" r="1.92"/><circle cx="841.0" cy="487.0" r="1.93"/><circle cx="886.3" cy="504.6" r="2.11"/><circle cx="880.7" cy="340.3" r="2.09"/><circle cx="883.9" cy="356.3" r="1.87"/><circle cx="861.1" cy="325.6" r="1.79"/><circle cx="858.9" cy="504.7" r="2.00"/><circle cx="848.0" cy="464.1" r="2.02"/><circle cx="843.4" cy="374.7" r="2.11"/><circle cx="869.0" cy="482.9" r="2.14"/><circle cx="884.9" cy="444.3" r="2.06"/><circle cx="856.4" cy="350.7" r="2.06"/><circle cx="867.3" cy="331.9" r="1.96"/><circle cx="876.8" cy="457.5" r="1.84"/><circle cx="886.4" cy="366.1" r="1.85"/><circle cx="844.3" cy="473.9" r="1.78"/><circle cx="883.0" cy="319.5" r="2.01"/><circle cx="869.6" cy="319.8" r="1.91"/><circle cx="864.1" cy="348.2" r="2.12"/><circle cx="870.6" cy="471.9" r="1.84"/><circle cx="837.8" cy="453.4" r="1.77"/><circle cx="884.6" cy="486.5" r="2.05"/><circle cx="866.9" cy="446.9" r="1.96"/><circle cx="835.3" cy="359.8" r="2.08"/><circle cx="836.5" cy="327.7" r="1.87"/><circle cx="855.9" cy="460.5" r="2.08"/><circle cx="862.5" cy="377.6" r="2.01"/><circle cx="888.4" cy="344.2" r="1.88"/><circle cx="861.6" cy="466.3" r="1.89"/><circle cx="834.6" cy="506.1" r="1.84"/><circle cx="848.4" cy="359.4" r="2.06"/><circle cx="878.2" cy="505.2" r="1.97"/><circle cx="845.7" cy="319.0" r="2.07"/><circle cx="857.6" cy="494.1" r="1.85"/><circle cx="872.4" cy="339.2" r="1.85"/><circle cx="843.2" cy="341.8" r="2.04"/><circle cx="888.6" cy="325.4" r="2.12"/><circle cx="835.5" cy="380.7" r="1.87"/><circle cx="879.7" cy="371.0" r="1.80"/></g><line x1="675.9" y1="317.6" x2="675.9" y2="507.4" stroke="#4a1a10" stroke-width="0.8"/><line x1="686.6" y1="317.6" x2="686.6" y2="507.4" stroke="#4a1a10" stroke-width="0.8"/><line x1="708.2" y1="317.6" x2="708.2" y2="507.4" stroke="#4a1a10" stroke-width="0.8"/><line x1="735.7" y1="317.6" x2="735.7" y2="507.4" stroke="#4a1a10" stroke-width="0.8"/><line x1="756.6" y1="317.6" x2="756.6" y2="507.4" stroke="#4a1a10" stroke-width="0.8"/><line x1="784.5" y1="317.6" x2="784.5" y2="507.4" stroke="#4a1a10" stroke-width="0.8"/><line x1="804.9" y1="317.6" x2="804.9" y2="507.4" stroke="#4a1a10" stroke-width="0.8"/><line x1="833.4" y1="317.6" x2="833.4" y2="507.4" stroke="#4a1a10" stroke-width="0.8"/><rect x="890" y="317.6" width="75.10000000000002" height="189.79999999999995" fill="url(#sky)"/><rect x="686.6" y="394.0" width="21.6" height="38.0" fill="url(#brickHole)" /><line x1="890" y1="317.6" x2="890" y2="507.4" stroke="#2a1a10" stroke-width="1.6"/><path d="M716,399 L722,389 Q740,385 760,388 Q768,382 778,383 Q788,385 792,392 Q800,388 806,390 Q814,384 822,382 Q830,383 836,390 L884,388 L884,386 L890,386 L890,438 L884,438 L884,436 L836,434 Q830,441 822,442 Q814,440 806,434 Q800,436 792,432 Q788,439 778,441 Q768,442 760,436 Q740,439 722,435 L716,425 Z" fill="url(#plugG)" stroke="#151515" stroke-width="1.6" stroke-linejoin="round"/><path d="M790,399 Q812,394 836,398 L884,398 M790,425 Q812,430 836,426 L884,426" fill="none" stroke="#666" stroke-width="0.9"/><rect x="884.0" y="386.5" width="6.0" height="51.0" fill="#a8a8a8" stroke="#333" stroke-width="0.8"/><path d="M850,412 L884,412" stroke="#8aaac0" stroke-width="2.4"/><path d="M688,412 L706,405 L716,405 L716,419 L706,419 Z" fill="#d8d8d8" stroke="#222" stroke-width="1"/><g transform="translate(700 412)"><path d="M-2.2,-11.2 Q0.0,-12.8 2.2,-11.4 Q5.5,-2 10.6,10.8 Q8.0,13 5.6,11.6 Q2.5,1 -2.2,-11.2 Z" fill="#141414"/><path d="M0.0,-11.7 L-4.6,-5.8 M8.0,11.7 L12.4,5.8" stroke="#141414" stroke-width="1.4" fill="none" stroke-linecap="round"/></g><path d="M722,394 Q716,402 713,412 Q716,422 722,430 L728,431.6 L774,431.6 Q778,431.6 778,427 L778,422.5 L792,422.5 Q799,427 806,422.5 L846,422.5 Q852,422.5 852,412 Q852,401.5 846,401.5 L806,401.5 Q799,397 792,401.5 L778,401.5 L778,397 Q778,392.4 774,392.4 L728,392.4 Z" fill="url(#redG)" stroke="#4a1208" stroke-width="1"/><g transform="translate(718 412)"><path d="M19,-12 C13,-8 8.5,-3 7,0 C8.5,3 13,8 19,12 L21,10.4 C16,7 13.5,3 12.5,0 C13.5,-3 16,-7 21,-10.4 Z" fill="#fff" stroke="#3a0e06" stroke-width="0.9" stroke-linejoin="round"/><path d="M30.5,-12 C24.5,-8 20.0,-3 18.5,0 C20.0,3 24.5,8 30.5,12 L32.5,10.4 C27.5,7 25.0,3 24.0,0 C25.0,-3 27.5,-7 32.5,-10.4 Z" fill="#fff" stroke="#3a0e06" stroke-width="0.9" stroke-linejoin="round"/><path d="M42,-12 C36,-8 31.5,-3 30,0 C31.5,3 36,8 42,12 L44,10.4 C39,7 36.5,3 35.5,0 C36.5,-3 39,-7 44,-10.4 Z" fill="#fff" stroke="#3a0e06" stroke-width="0.9" stroke-linejoin="round"/><path d="M53,-12 C47,-8 42.5,-3 41,0 C42.5,3 47,8 53,12 L55,10.4 C50,7 47.5,3 46.5,0 C47.5,-3 50,-7 55,-10.4 Z" fill="#fff" stroke="#3a0e06" stroke-width="0.9" stroke-linejoin="round"/></g><rect x="889.0" y="405.5" width="41.0" height="14.0" fill="url(#shankG)" stroke="#333" stroke-width="0.8"/><g transform="translate(897 412.5)"><path d="M-2.2,-12.2 Q0.0,-13.8 2.2,-12.4 Q5.5,-2 10.6,11.8 Q8.0,14 5.6,12.6 Q2.5,1 -2.2,-12.2 Z" fill="#141414"/><path d="M0.0,-12.7 L-4.6,-5.8 M8.0,12.7 L12.4,5.8" stroke="#141414" stroke-width="1.4" fill="none" stroke-linecap="round"/><path d="M14.600000000000001,-12.2 Q16.8,-13.8 19.0,-12.4 Q22.3,-2 27.4,11.8 Q24.8,14 22.4,12.6 Q19.3,1 14.600000000000001,-12.2 Z" fill="#141414"/><path d="M16.8,-12.7 L12.200000000000001,-5.8 M24.8,12.7 L29.200000000000003,5.8" stroke="#141414" stroke-width="1.4" fill="none" stroke-linecap="round"/></g><path d="M926,407.5 L946,390.3 L946,435.1 L926,417.5 Z" fill="url(#headG)" stroke="#222" stroke-width="1.2" stroke-linejoin="round"/><rect x="675.9" y="317.6" width="37.5" height="27.5" fill="#f40808"/><text x="694.9" y="338.90000000000003" font-family="Liberation Sans" font-weight="bold" font-size="22" fill="#fff" text-anchor="middle">3</text></g><rect x="675.9" y="317.6" width="289.20000000000005" height="189.79999999999995" fill="none" stroke="#141414" stroke-width="2.2"/><clipPath id="cp7"><rect x="56.9" y="531.8" width="287.90000000000003" height="189.10000000000002"/></clipPath><g clip-path="url(#cp7)"><rect x="56.9" y="531.8" width="287.90000000000003" height="189.10000000000002" fill="url(#sky)"/><rect x="127.9" y="531.8" width="51.7" height="189.1" fill="#dcdcde" stroke="#333" stroke-width="1.1"/><rect x="127.9" y="607.3" width="22.1" height="36.9" fill="url(#holeG)" stroke="#222" stroke-width="1"/><g transform="translate(139.7 625.7)">
<path d="M68,-19 L71,-19 L72,-23 L84,-23 L98,-14.5 L101,-14.5 L101,-23 L113,-23 L128,-14.5 L129.5,-14.5 L129.5,-23 L152,-23 L153.5,-25.5 L187,-25.5 L187,-26.5 L190.7,-26.5 L190.7,26.5 L187,26.5 L187,25.5 L153.5,25.5 L152,23 L129.5,23 L129.5,14.5 L128,14.5 L113,23 L101,23 L101,14.5 L98,14.5 L84,23 L72,23 L71,19 L68,19 Z" fill="url(#plugG)" stroke="#151515" stroke-width="1.7" stroke-linejoin="round"/>
<path d="M73,-16 L186,-16 M73,16 L186,16" stroke="#444" stroke-width="1" fill="none"/>
<path d="M150,-2 L187,-2 M150,2.2 L187,2.2" stroke="#222" stroke-width="1.3"/>
<rect x="186.5" y="-26" width="4" height="52" fill="#b4b4b4" stroke="#151515" stroke-width="1.2"/>
<path d="M0.5,-11 C6.5,-11 6.5,-3.5 0,-3.5 Z M0.5,11 C6.5,11 6.5,3.5 0,3.5 Z" fill="#fff"/>
<path d="M7,-19.4 L64,-19.4 Q68.5,-19.4 68.5,-15 L68.5,-8 L92,-8 Q99,-12.5 107,-8 L149,-8 Q154,-8 154,0 Q154,8 149,8 L107,8 Q99,12.5 92,8 L68.5,8 L68.5,15 Q68.5,19.4 64,19.4 L7,19.4 Q4,19.4 0.5,11 C6.5,11 6.5,3.5 0,3.5 L0,-3.5 C6.5,-3.5 6.5,-11 0.5,-11 Q4,-19.4 7,-19.4 Z" fill="url(#redG)" stroke="#3a0e06" stroke-width="1.1" stroke-linejoin="round"/>
<path d="M25.2,-12 C19.2,-8 14.7,-3 13.2,0 C14.7,3 19.2,8 25.2,12 L27.2,10.4 C22.2,7 19.7,3 18.7,0 C19.7,-3 22.2,-7 27.2,-10.4 Z" fill="#fff" stroke="#3a0e06" stroke-width="0.9" stroke-linejoin="round"/><path d="M37.2,-12 C31.2,-8 26.7,-3 25.2,0 C26.7,3 31.2,8 37.2,12 L39.2,10.4 C34.2,7 31.7,3 30.7,0 C31.7,-3 34.2,-7 39.2,-10.4 Z" fill="#fff" stroke="#3a0e06" stroke-width="0.9" stroke-linejoin="round"/><path d="M48.7,-12 C42.7,-8 38.2,-3 36.7,0 C38.2,3 42.7,8 48.7,12 L50.7,10.4 C45.7,7 43.2,3 42.2,0 C43.2,-3 45.7,-7 50.7,-10.4 Z" fill="#fff" stroke="#3a0e06" stroke-width="0.9" stroke-linejoin="round"/><path d="M60.5,-12 C54.5,-8 50.0,-3 48.5,0 C50.0,3 54.5,8 60.5,12 L62.5,10.4 C57.5,7 55.0,3 54.0,0 C55.0,-3 57.5,-7 62.5,-10.4 Z" fill="#fff" stroke="#3a0e06" stroke-width="0.9" stroke-linejoin="round"/>
</g><g transform="translate(214 565.1)">
<path d="M0,0 L13,-12.5 L13,-5.3 L46.5,-5.3 L46.5,5.3 L13,5.3 L13,12.5 Z" fill="#f21010" stroke="#9a0000" stroke-width="0.8" stroke-linejoin="round"/>
</g><rect x="56.9" y="531.8" width="37.5" height="27.5" fill="#f40808"/><path transform="translate(56.9 531.8)" d="M18,5.8 L22.4,5.8 L22.4,21.2 L18,21.2 L18,11 Q16.5,12.3 14.4,12.6 L14.4,9.4 Q17,8.6 18,5.8 Z" fill="#fff"/></g><rect x="56.9" y="531.8" width="287.90000000000003" height="189.10000000000002" fill="none" stroke="#141414" stroke-width="2.2"/><clipPath id="cp8"><rect x="365.1" y="532" width="287.79999999999995" height="188.60000000000002"/></clipPath><g clip-path="url(#cp8)"><rect x="365.1" y="532" width="287.79999999999995" height="188.60000000000002" fill="url(#sky)"/><rect x="457.5" y="532.0" width="51.9" height="188.6" fill="#dcdcde" stroke="#333" stroke-width="1.1"/><g transform="translate(316.9 625)">
<path d="M68,-19 L71,-19 L72,-23 L84,-23 L98,-14.5 L101,-14.5 L101,-23 L113,-23 L128,-14.5 L129.5,-14.5 L129.5,-23 L152,-23 L153.5,-25.5 L187,-25.5 L187,-26.5 L190.7,-26.5 L190.7,26.5 L187,26.5 L187,25.5 L153.5,25.5 L152,23 L129.5,23 L129.5,14.5 L128,14.5 L113,23 L101,23 L101,14.5 L98,14.5 L84,23 L72,23 L71,19 L68,19 Z" fill="url(#plugG)" stroke="#151515" stroke-width="1.7" stroke-linejoin="round"/>
<path d="M73,-16 L186,-16 M73,16 L186,16" stroke="#444" stroke-width="1" fill="none"/>
<path d="M150,-2 L187,-2 M150,2.2 L187,2.2" stroke="#222" stroke-width="1.3"/>
<rect x="186.5" y="-26" width="4" height="52" fill="#b4b4b4" stroke="#151515" stroke-width="1.2"/>
<path d="M0.5,-11 C6.5,-11 6.5,-3.5 0,-3.5 Z M0.5,11 C6.5,11 6.5,3.5 0,3.5 Z" fill="#fff"/>
<path d="M7,-19.4 L64,-19.4 Q68.5,-19.4 68.5,-15 L68.5,-8 L92,-8 Q99,-12.5 107,-8 L149,-8 Q154,-8 154,0 Q154,8 149,8 L107,8 Q99,12.5 92,8 L68.5,8 L68.5,15 Q68.5,19.4 64,19.4 L7,19.4 Q4,19.4 0.5,11 C6.5,11 6.5,3.5 0,3.5 L0,-3.5 C6.5,-3.5 6.5,-11 0.5,-11 Q4,-19.4 7,-19.4 Z" fill="url(#redG)" stroke="#3a0e06" stroke-width="1.1" stroke-linejoin="round"/>
<path d="M25.2,-12 C19.2,-8 14.7,-3 13.2,0 C14.7,3 19.2,8 25.2,12 L27.2,10.4 C22.2,7 19.7,3 18.7,0 C19.7,-3 22.2,-7 27.2,-10.4 Z" fill="#fff" stroke="#3a0e06" stroke-width="0.9" stroke-linejoin="round"/><path d="M37.2,-12 C31.2,-8 26.7,-3 25.2,0 C26.7,3 31.2,8 37.2,12 L39.2,10.4 C34.2,7 31.7,3 30.7,0 C31.7,-3 34.2,-7 39.2,-10.4 Z" fill="#fff" stroke="#3a0e06" stroke-width="0.9" stroke-linejoin="round"/><path d="M48.7,-12 C42.7,-8 38.2,-3 36.7,0 C38.2,3 42.7,8 48.7,12 L50.7,10.4 C45.7,7 43.2,3 42.2,0 C43.2,-3 45.7,-7 50.7,-10.4 Z" fill="#fff" stroke="#3a0e06" stroke-width="0.9" stroke-linejoin="round"/><path d="M60.5,-12 C54.5,-8 50.0,-3 48.5,0 C50.0,3 54.5,8 60.5,12 L62.5,10.4 C57.5,7 55.0,3 54.0,0 C55.0,-3 57.5,-7 62.5,-10.4 Z" fill="#fff" stroke="#3a0e06" stroke-width="0.9" stroke-linejoin="round"/>
</g><g transform="translate(509.4 626)">
<rect x="0" y="-7" width="90" height="14" fill="url(#shankG)" stroke="#333" stroke-width="0.8"/>
<path d="M6.8,-13.2 Q9.0,-14.8 11.2,-13.4 Q14.5,-2 19.6,12.8 Q17.0,15 14.6,13.6 Q11.5,1 6.8,-13.2 Z" fill="#141414"/><path d="M9.0,-13.7 L4.4,-5.8 M17.0,13.7 L21.4,5.8" stroke="#141414" stroke-width="1.4" fill="none" stroke-linecap="round"/><path d="M21.400000000000002,-13.2 Q23.6,-14.8 25.8,-13.4 Q29.1,-2 34.2,12.8 Q31.6,15 29.200000000000003,13.6 Q26.1,1 21.400000000000002,-13.2 Z" fill="#141414"/><path d="M23.6,-13.7 L19.0,-5.8 M31.6,13.7 L36.0,5.8" stroke="#141414" stroke-width="1.4" fill="none" stroke-linecap="round"/><path d="M36.0,-13.2 Q38.2,-14.8 40.400000000000006,-13.4 Q43.7,-2 48.800000000000004,12.8 Q46.2,15 43.800000000000004,13.6 Q40.7,1 36.0,-13.2 Z" fill="#141414"/><path d="M38.2,-13.7 L33.6,-5.8 M46.2,13.7 L50.6,5.8" stroke="#141414" stroke-width="1.4" fill="none" stroke-linecap="round"/><path d="M50.599999999999994,-13.2 Q52.8,-14.8 55.0,-13.4 Q58.3,-2 63.4,12.8 Q60.8,15 58.4,13.6 Q55.3,1 50.599999999999994,-13.2 Z" fill="#141414"/><path d="M52.8,-13.7 L48.199999999999996,-5.8 M60.8,13.7 L65.2,5.8" stroke="#141414" stroke-width="1.4" fill="none" stroke-linecap="round"/><path d="M65.2,-13.2 Q67.4,-14.8 69.60000000000001,-13.4 Q72.9,-2 78.0,12.8 Q75.4,15 73.0,13.6 Q69.9,1 65.2,-13.2 Z" fill="#141414"/><path d="M67.4,-13.7 L62.800000000000004,-5.8 M75.4,13.7 L79.80000000000001,5.8" stroke="#141414" stroke-width="1.4" fill="none" stroke-linecap="round"/><path d="M79.8,-13.2 Q82.0,-14.8 84.2,-13.4 Q87.5,-2 92.6,12.8 Q90.0,15 87.6,13.6 Q84.5,1 79.8,-13.2 Z" fill="#141414"/><path d="M82.0,-13.7 L77.4,-5.8 M90.0,13.7 L94.4,5.8" stroke="#141414" stroke-width="1.4" fill="none" stroke-linecap="round"/>
<path d="M86,-5 L107,-22.5 L107,22.5 L86,5 Z" fill="url(#headG)" stroke="#222" stroke-width="1.2" stroke-linejoin="round"/>
<path d="M92,-5 L104,-17" stroke="#fff" stroke-width="1.2"/>
</g><g transform="translate(616.5 626)">
<path d="M0,-11 L6,-13.5 L60,-17 L60,17 L6,14 L0,11 Z" fill="url(#bitG)" stroke="#1a1a1a" stroke-width="1.1"/>
<path d="M1,-8 Q14,-12 27,-10.2 Q31.5,-7.5 27,-4.5 Q14,-3 1,-4 Z" fill="#3a3a3a" stroke="#111" stroke-width="0.8"/>
<path d="M1,4 Q14,2.5 27,4 Q31.5,7 27,10.5 Q14,12.5 1,8.5 Z" fill="#3a3a3a" stroke="#111" stroke-width="0.8"/>
<path d="M4,-2 Q16,-1 26,-1.5" stroke="#fff" stroke-width="1.2" fill="none"/>
</g><g transform="translate(580 548)">
<path d="M33,138 C33,152 26,160 17,158 C5,155 0,118 0,78 C0,38 8,0 24,0 C32,0 35,6 35,16 L42,20 L28,42 L17,19 L25,18 C25,12 22,10 19,12 C14,18 12.5,46 12.5,78 C12.5,114 15,142 21,148 C24,150 26,144 25,138 Z" fill="#f01a1a" stroke="#8a0000" stroke-width="0.9" stroke-linejoin="round"/>
<path d="M24,0 C30,2 33,8 33,16" fill="none" stroke="#8a0000" stroke-width="0.8"/>
<path d="M21,149 C26,150 30,146 33,138" fill="none" stroke="#8a0000" stroke-width="0.8"/>
</g><rect x="365.1" y="532" width="37.5" height="27.5" fill="#f40808"/><text x="384.1" y="553.3" font-family="Liberation Sans" font-weight="bold" font-size="22" fill="#fff" text-anchor="middle">2</text></g><rect x="365.1" y="532" width="287.79999999999995" height="188.60000000000002" fill="none" stroke="#141414" stroke-width="2.2"/><clipPath id="cp9"><rect x="674.4" y="531.9" width="287.6" height="188.5"/></clipPath><g clip-path="url(#cp9)"><rect x="674.4" y="531.9" width="287.6" height="188.5" fill="url(#sky)"/><rect x="837.9" y="531.9" width="51.1" height="188.5" fill="#dcdcde" stroke="#333" stroke-width="1.1"/><rect x="669.4" y="620.6" width="260.6" height="12.6" fill="url(#shankG)" stroke="#333" stroke-width="0.8"/><g transform="translate(688.5 627)"><path d="M-16.8,-12.2 Q-14.6,-13.8 -12.399999999999999,-12.4 Q-9.1,-2 -4.0,11.8 Q-6.6,14 -9.0,12.6 Q-12.1,1 -16.8,-12.2 Z" fill="#141414"/><path d="M-14.6,-12.7 L-19.2,-5.8 M-6.6,12.7 L-2.1999999999999993,5.8" stroke="#141414" stroke-width="1.4" fill="none" stroke-linecap="round"/><path d="M-2.2,-12.2 Q0.0,-13.8 2.2,-12.4 Q5.5,-2 10.6,11.8 Q8.0,14 5.6,12.6 Q2.5,1 -2.2,-12.2 Z" fill="#141414"/><path d="M0.0,-12.7 L-4.6,-5.8 M8.0,12.7 L12.4,5.8" stroke="#141414" stroke-width="1.4" fill="none" stroke-linecap="round"/><path d="M12.399999999999999,-12.2 Q14.6,-13.8 16.8,-12.4 Q20.1,-2 25.2,11.8 Q22.6,14 20.2,12.6 Q17.1,1 12.399999999999999,-12.2 Z" fill="#141414"/><path d="M14.6,-12.7 L10.0,-5.8 M22.6,12.7 L27.0,5.8" stroke="#141414" stroke-width="1.4" fill="none" stroke-linecap="round"/><path d="M26.999999999999996,-12.2 Q29.199999999999996,-13.8 31.399999999999995,-12.4 Q34.699999999999996,-2 39.8,11.8 Q37.199999999999996,14 34.8,12.6 Q31.699999999999996,1 26.999999999999996,-12.2 Z" fill="#141414"/><path d="M29.199999999999996,-12.7 L24.599999999999994,-5.8 M37.199999999999996,12.7 L41.599999999999994,5.8" stroke="#141414" stroke-width="1.4" fill="none" stroke-linecap="round"/><path d="M41.599999999999994,-12.2 Q43.8,-13.8 46.0,-12.4 Q49.3,-2 54.4,11.8 Q51.8,14 49.4,12.6 Q46.3,1 41.599999999999994,-12.2 Z" fill="#141414"/><path d="M43.8,-12.7 L39.199999999999996,-5.8 M51.8,12.7 L56.199999999999996,5.8" stroke="#141414" stroke-width="1.4" fill="none" stroke-linecap="round"/><path d="M56.199999999999996,-12.2 Q58.4,-13.8 60.6,-12.4 Q63.9,-2 69.0,11.8 Q66.4,14 64.0,12.6 Q60.9,1 56.199999999999996,-12.2 Z" fill="#141414"/><path d="M58.4,-12.7 L53.8,-5.8 M66.4,12.7 L70.8,5.8" stroke="#141414" stroke-width="1.4" fill="none" stroke-linecap="round"/></g><g transform="translate(891 627)"><path d="M-2.2,-12.2 Q0.0,-13.8 2.2,-12.4 Q5.5,-2 10.6,11.8 Q8.0,14 5.6,12.6 Q2.5,1 -2.2,-12.2 Z" fill="#141414"/><path d="M0.0,-12.7 L-4.6,-5.8 M8.0,12.7 L12.4,5.8" stroke="#141414" stroke-width="1.4" fill="none" stroke-linecap="round"/><path d="M12.0,-12.2 Q14.2,-13.8 16.4,-12.4 Q19.7,-2 24.799999999999997,11.8 Q22.2,14 19.799999999999997,12.6 Q16.7,1 12.0,-12.2 Z" fill="#141414"/><path d="M14.2,-12.7 L9.6,-5.8 M22.2,12.7 L26.6,5.8" stroke="#141414" stroke-width="1.4" fill="none" stroke-linecap="round"/><path d="M26.2,-12.2 Q28.4,-13.8 30.599999999999998,-12.4 Q33.9,-2 39.0,11.8 Q36.4,14 34.0,12.6 Q30.9,1 26.2,-12.2 Z" fill="#141414"/><path d="M28.4,-12.7 L23.799999999999997,-5.8 M36.4,12.7 L40.8,5.8" stroke="#141414" stroke-width="1.4" fill="none" stroke-linecap="round"/></g><path d="M925,622 L943.3,605 L943.3,649 L925,632 Z" fill="url(#headG)" stroke="#222" stroke-width="1.2"/><rect x="838.7" y="600.0" width="46.3" height="53.0" fill="url(#plugG)" stroke="#333" stroke-width="1.2"/><rect x="884.0" y="600.0" width="4.3" height="53.0" fill="#a8a8a8" stroke="#333" stroke-width="0.8"/><path d="M840,607 L884,607 M840,646 L884,646" stroke="#777" stroke-width="0.9"/><path d="M845,627 L884,627" stroke="#8aaac0" stroke-width="2.4"/><path d="M768,606.4 L808.8,606.4 L808.8,645 L768,645 Q762,638 760.8,626 Q762,613 768,606.4 Z" fill="url(#redG)" stroke="#4a1208" stroke-width="1"/><g transform="translate(764 626)"><path d="M21,-12 C15,-8 10.5,-3 9,0 C10.5,3 15,8 21,12 L23,10.4 C18,7 15.5,3 14.5,0 C15.5,-3 18,-7 23,-10.4 Z" fill="#fff" stroke="#3a0e06" stroke-width="0.9" stroke-linejoin="round"/><path d="M32.5,-12 C26.5,-8 22.0,-3 20.5,0 C22.0,3 26.5,8 32.5,12 L34.5,10.4 C29.5,7 27.0,3 26.0,0 C27.0,-3 29.5,-7 34.5,-10.4 Z" fill="#fff" stroke="#3a0e06" stroke-width="0.9" stroke-linejoin="round"/><path d="M44,-12 C38,-8 33.5,-3 32,0 C33.5,3 38,8 44,12 L46,10.4 C41,7 38.5,3 37.5,0 C38.5,-3 41,-7 46,-10.4 Z" fill="#fff" stroke="#3a0e06" stroke-width="0.9" stroke-linejoin="round"/></g><path d="M823,570 Q818,570 813,575 L810,578.5 Q808.3,581 808.3,585 L808.3,666 Q808.3,670 810,672.5 L813,676 Q818,681.3 823,681.3 Q828,681.3 833,676 L836,672.5 Q837.7,670 837.7,666 L837.7,585 Q837.7,581 836,578.5 L833,575 Q828,570 823,570 Z" fill="#e4e4e4" stroke="#2a2a2a" stroke-width="1.3"/><path d="M823,577.5 L830.8,584 L830.8,604 L823,612 L816.6,604 L816.6,584 Z" fill="#c9c9c9" stroke="#333" stroke-width="1.1" stroke-linejoin="round"/><path d="M823,635.5 L830.8,642 L830.8,668 L823,674 L816.6,668 L816.6,642 Z" fill="#c9c9c9" stroke="#333" stroke-width="1.1" stroke-linejoin="round"/><path d="M823,579 L823,610 M823,637 L823,672" stroke="#f4f4f4" stroke-width="1.6"/><path d="M816.6,614 L830.8,634 M830.8,614 L816.6,634" stroke="#333" stroke-width="1.1"/><path d="M808,612 Q812,604 820,602 Q826,598 832,602 Q836,606 834,612 Q838,617 846,618 Q851,620 850,626 Q850,632 844,633 L836,633 Q831,626 828,630 Q822,636 816,632 Q812,628 808,630 Z" fill="#f02818" stroke="#4a1208" stroke-width="1"/><rect x="674.4" y="531.9" width="37.5" height="27.5" fill="#f40808"/><text x="693.4" y="553.1999999999999" font-family="Liberation Sans" font-weight="bold" font-size="22" fill="#fff" text-anchor="middle">3</text></g><rect x="674.4" y="531.9" width="287.6" height="188.5" fill="none" stroke="#141414" stroke-width="2.2"/><path d="M1051.8,754.2 L1051.8,109.6 A38,38 0 0 1 1089.8,71.6 L1232.9,71.6 A38,38 0 0 1 1270.9,109.6 L1270.9,754.2 Z" fill="#fff" stroke="#36c536" stroke-width="3.3"/><rect x="1051.8" y="154.2" width="219.1" height="136.8" fill="#36c536" /><path d="M1117.4,104.3 L1120.2,99.4 L1123.4,98.9 L1129.4,101.6 L1135.4,102.7 L1138.1,106.0 L1145.2,128.9 L1190.5,77.6 L1195.9,78.7 L1201.4,80.4 L1206.3,81.4 L1204.6,86.3 L1191.6,106.0 L1165.4,137.6 L1149.0,151.2 L1132.7,144.1 L1127.2,126.7 L1121.8,112.5 Z" fill="#36c536"/><text x="1095.6" y="189" font-family="Liberation Sans" font-weight="bold" font-size="29" fill="#fff" textLength="128.0" lengthAdjust="spacingAndGlyphs">CORRECT</text><text x="1106" y="208.5" font-family="Liberation Sans" font-weight="bold" font-size="10.6" fill="#fff" textLength="112.5" lengthAdjust="spacingAndGlyphs">La cheville doit être</text><text x="1088.8" y="222" font-family="Liberation Sans" font-weight="bold" font-size="10.6" fill="#fff" textLength="147.5" lengthAdjust="spacingAndGlyphs">complètement insérée dans</text><text x="1119.3" y="235.6" font-family="Liberation Sans" font-weight="bold" font-size="10.6" fill="#fff" textLength="86.5" lengthAdjust="spacingAndGlyphs">le mur de sorte</text><text x="1076" y="249.2" font-family="Liberation Sans" font-weight="bold" font-size="10.6" fill="#fff" textLength="173" lengthAdjust="spacingAndGlyphs">que SEULEMENT la tête à cône</text><text x="1103.7" y="262.7" font-family="Liberation Sans" font-weight="bold" font-size="10.6" fill="#fff" textLength="117.29999999999995" lengthAdjust="spacingAndGlyphs">de la vis reste visible</text><text x="1105.8" y="276.8" font-family="Liberation Sans" font-weight="bold" font-size="10.6" fill="#fff" textLength="113.5" lengthAdjust="spacingAndGlyphs">à l’extérieur du mur</text><path d="M1349.9,754 L1349.9,109.6 A38,38 0 0 1 1387.9,71.6 L1531.8,71.6 A38,38 0 0 1 1569.8,109.6 L1569.8,754 Z" fill="#fff" stroke="#dc1c22" stroke-width="3.3"/><rect x="1349.9" y="154.2" width="219.9" height="136.8" fill="#dc1c22" /><path d="M1427.9,87.6 L1440.0,83.7 L1457.5,106.0 L1468.1,92.4 L1476.0,88.0 L1483.6,86.1 L1488.0,90.5 L1465.7,116.7 L1481.7,139.9 L1469.6,146.2 L1455.5,129.3 L1445.9,139.0 L1433.7,143.8 L1430.3,137.0 L1446.8,117.6 Z" fill="#e01e28"/><text x="1382" y="189.4" font-family="Liberation Sans" font-weight="bold" font-size="29" fill="#fff" textLength="161" lengthAdjust="spacingAndGlyphs">ATTENTION!</text><text x="1382" y="210.2" font-family="Liberation Sans" font-weight="bold" font-size="10.6" fill="#fff" textLength="158" lengthAdjust="spacingAndGlyphs">La vis qui reste à l’extérieur</text><text x="1377.8" y="223.7" font-family="Liberation Sans" font-weight="bold" font-size="10.6" fill="#fff" textLength="166.10000000000014" lengthAdjust="spacingAndGlyphs">du mur au delà de 5 mm peut</text><text x="1395.6" y="237.3" font-family="Liberation Sans" font-weight="bold" font-size="10.6" fill="#fff" textLength="129.70000000000005" lengthAdjust="spacingAndGlyphs">endommager le tableau.</text><text x="1367.6" y="251.4" font-family="Liberation Sans" font-weight="bold" font-size="10.6" fill="#fff" textLength="186.4000000000001" lengthAdjust="spacingAndGlyphs">LA SURFACE LAMINEE POURRAIT</text><text x="1399.8" y="265.8" font-family="Liberation Sans" font-weight="bold" font-size="10.6" fill="#fff" textLength="122.10000000000014" lengthAdjust="spacingAndGlyphs">S’ABIMER OU CASSER</text><text x="1434.6" y="279.7" font-family="Liberation Sans" font-weight="bold" font-size="10.6" fill="#fff" textLength="52.200000000000045" lengthAdjust="spacingAndGlyphs">LE VERRE</text><text x="1206.5" y="314" font-family="Liberation Sans" font-weight="bold" font-size="12.6" fill="#1a1a1a" textLength="35.6" lengthAdjust="spacing">3 mm</text><path d="M1212.8,330 Q1213,324 1220,324 Q1223,324 1223.7,321.5 Q1224.4,324 1227.4,324 Q1234,324 1234.1,330" fill="none" stroke="#d42020" stroke-width="2"/><path d="M1218,328 L1218,350.2 M1228.9,328 L1228.9,382.4" stroke="#d42020" stroke-width="1.6"/><rect x="1074.3" y="353.0" width="143.0" height="87.6" fill="#6f2116" /><g transform="translate(1094.1 396.5)"><path d="M0,-1 L6,-10 L124,-10 L124,11 L6,11 L0,1 Z" fill="#fff"/><path d="M6,0 Q14,-2 20,-4.5 L22,-4.5 L23,-7 L25,-7 L25,-4.5 L26.5,-4.5 L26.5,-6.5 L28,-6.5 L28,6.5 L26.5,6.5 L26.5,4.5 L25,4.5 L25,7 L23,7 L22,4.5 L20,4.5 Q14,2 6,0 Z" fill="#6e6e6e"/><path d="M69,-8 L125,-8 L125,8 L69,8 Z" fill="#d4d4d4"/><path d="M69,-8 L125,-8 M69,8 L125,8" stroke="#bdbdbd" stroke-width="1.2" stroke-dasharray="3 2"/><path d="M27.5,-9 L69,-9 L69,-4.4 L116,-4.4 Q119.5,-4.4 119,-2 Q118,0 119,2 Q119.5,4.4 116,4.4 L69,4.4 L69,9 L27.5,9 Z" fill="#f24a4a"/><path d="M34,-9.5 L34,-7.5 M45,-9.5 L45,-7.5 M56,-9.5 L56,-7.5 M66,-9.5 L66,-7.5 M34,7.5 L34,9.5 M45,7.5 L45,9.5 M56,7.5 L56,9.5 M66,7.5 L66,9.5" stroke="#fff" stroke-width="2.2"/><path d="M42,-5 Q38.5,0 42,5" stroke="#f7c4c4" stroke-width="1.6" fill="none"/><path d="M47.5,-5 Q44.0,0 47.5,5" stroke="#f7c4c4" stroke-width="1.6" fill="none"/><path d="M53.5,-5 Q50.0,0 53.5,5" stroke="#f7c4c4" stroke-width="1.6" fill="none"/><path d="M59.5,-5 Q56.0,0 59.5,5" stroke="#f7c4c4" stroke-width="1.6" fill="none"/><text x="74" y="3" font-family="Liberation Sans" font-size="8" fill="#9a2a2a" textLength="25" lengthAdjust="spacingAndGlyphs">fischer</text><rect x="100" y="-1.6" width="13" height="3.6" fill="none" stroke="#b04040" stroke-width="0.7" stroke-dasharray="1.5 1"/><path d="M126,-7 Q128,-12 131,-12 Q135,-8 135,0 Q135,8 131,11 Q128,11 126,6 Z" fill="#777"/></g><rect x="1074.3" y="457.0" width="142.7" height="273.7" fill="#6f2116" /><rect x="1236.1" y="455.3" width="14.8" height="275.4" fill="#f87d32" /><path d="M1235.1,472.8 L1235.1,529 L1217.8,550 L1217.8,639.5 L1235.1,658.8 L1235.1,715" fill="none" stroke="#808080" stroke-width="1.6"/><g transform="translate(1094.1 593.5)"><path d="M0,-1 L6,-10 L124,-10 L124,11 L6,11 L0,1 Z" fill="#fff"/><path d="M6,0 Q14,-2 20,-4.5 L22,-4.5 L23,-7 L25,-7 L25,-4.5 L26.5,-4.5 L26.5,-6.5 L28,-6.5 L28,6.5 L26.5,6.5 L26.5,4.5 L25,4.5 L25,7 L23,7 L22,4.5 L20,4.5 Q14,2 6,0 Z" fill="#6e6e6e"/><path d="M69,-8 L125,-8 L125,8 L69,8 Z" fill="#d4d4d4"/><path d="M69,-8 L125,-8 M69,8 L125,8" stroke="#bdbdbd" stroke-width="1.2" stroke-dasharray="3 2"/><path d="M27.5,-9 L69,-9 L69,-4.4 L116,-4.4 Q119.5,-4.4 119,-2 Q118,0 119,2 Q119.5,4.4 116,4.4 L69,4.4 L69,9 L27.5,9 Z" fill="#f24a4a"/><path d="M34,-9.5 L34,-7.5 M45,-9.5 L45,-7.5 M56,-9.5 L56,-7.5 M66,-9.5 L66,-7.5 M34,7.5 L34,9.5 M45,7.5 L45,9.5 M56,7.5 L56,9.5 M66,7.5 L66,9.5" stroke="#fff" stroke-width="2.2"/><path d="M42,-5 Q38.5,0 42,5" stroke="#f7c4c4" stroke-width="1.6" fill="none"/><path d="M47.5,-5 Q44.0,0 47.5,5" stroke="#f7c4c4" stroke-width="1.6" fill="none"/><path d="M53.5,-5 Q50.0,0 53.5,5" stroke="#f7c4c4" stroke-width="1.6" fill="none"/><path d="M59.5,-5 Q56.0,0 59.5,5" stroke="#f7c4c4" stroke-width="1.6" fill="none"/><text x="74" y="3" font-family="Liberation Sans" font-size="8" fill="#9a2a2a" textLength="25" lengthAdjust="spacingAndGlyphs">fischer</text><rect x="100" y="-1.6" width="13" height="3.6" fill="none" stroke="#b04040" stroke-width="0.7" stroke-dasharray="1.5 1"/><path d="M126,-7 Q128,-12 131,-12 Q135,-8 135,0 Q135,8 131,11 Q128,11 126,6 Z" fill="#777"/></g><text x="1505.9" y="314" font-family="Liberation Sans" font-weight="bold" font-size="12.8" fill="#c81e1e" textLength="44.3" lengthAdjust="spacingAndGlyphs">+5 mm</text><path d="M1509.4,331 Q1509,324.3 1518,324.3 L1526,324.3 Q1528,323 1528.3,319.5 Q1528.8,323 1531,324.3 L1539,324.3 Q1548,324.3 1547.9,331" fill="none" stroke="#d42020" stroke-width="2.2"/><path d="M1514,328 L1514,349.6 M1542.7,328 L1542.7,382.4" stroke="#d42020" stroke-width="1.6"/><rect x="1370.5" y="353.0" width="142.9" height="87.6" fill="#6f2116" /><g transform="translate(1390.3 396.5)"><path d="M0,-1 L6,-10 L124,-10 L124,11 L6,11 L0,1 Z" fill="#fff"/><path d="M6,0 Q14,-2 20,-4.5 L22,-4.5 L23,-7 L25,-7 L25,-4.5 L26.5,-4.5 L26.5,-6.5 L28,-6.5 L28,6.5 L26.5,6.5 L26.5,4.5 L25,4.5 L25,7 L23,7 L22,4.5 L20,4.5 Q14,2 6,0 Z" fill="#6e6e6e"/><path d="M69,-8 L125,-8 L125,8 L69,8 Z" fill="#d4d4d4"/><path d="M69,-8 L125,-8 M69,8 L125,8" stroke="#bdbdbd" stroke-width="1.2" stroke-dasharray="3 2"/><path d="M27.5,-9 L69,-9 L69,-4.4 L116,-4.4 Q119.5,-4.4 119,-2 Q118,0 119,2 Q119.5,4.4 116,4.4 L69,4.4 L69,9 L27.5,9 Z" fill="#f24a4a"/><path d="M34,-9.5 L34,-7.5 M45,-9.5 L45,-7.5 M56,-9.5 L56,-7.5 M66,-9.5 L66,-7.5 M34,7.5 L34,9.5 M45,7.5 L45,9.5 M56,7.5 L56,9.5 M66,7.5 L66,9.5" stroke="#fff" stroke-width="2.2"/><path d="M42,-5 Q38.5,0 42,5" stroke="#f7c4c4" stroke-width="1.6" fill="none"/><path d="M47.5,-5 Q44.0,0 47.5,5" stroke="#f7c4c4" stroke-width="1.6" fill="none"/><path d="M53.5,-5 Q50.0,0 53.5,5" stroke="#f7c4c4" stroke-width="1.6" fill="none"/><path d="M59.5,-5 Q56.0,0 59.5,5" stroke="#f7c4c4" stroke-width="1.6" fill="none"/><text x="74" y="3" font-family="Liberation Sans" font-size="8" fill="#9a2a2a" textLength="25" lengthAdjust="spacingAndGlyphs">fischer</text><rect x="100" y="-1.6" width="13" height="3.6" fill="none" stroke="#b04040" stroke-width="0.7" stroke-dasharray="1.5 1"/><rect x="124" y="-3.5" width="16" height="7" fill="#6a6a6a"/><path d="M125.0,-6 Q127.0,-6.5 128.0,-5 L128.0,5 Q127.0,6.5 125.0,6 Z" fill="#5a5a5a"/><path d="M129.2,-6 Q131.2,-6.5 132.2,-5 L132.2,5 Q131.2,6.5 129.2,6 Z" fill="#5a5a5a"/><path d="M133.4,-6 Q135.4,-6.5 136.4,-5 L136.4,5 Q135.4,6.5 133.4,6 Z" fill="#5a5a5a"/><path d="M136.5,-4 Q144,-6 149.5,-11.5 Q153,-11 153,0 Q153,11 149.5,11.5 Q144,6 136.5,4 Z" fill="#777"/></g><rect x="1370.5" y="457.0" width="142.6" height="273.7" fill="#6f2116" /><rect x="1532.2" y="455.3" width="14.5" height="101.4" fill="#f87d32" /><rect x="1532.2" y="630.0" width="14.5" height="100.7" fill="#f87d32" /><path d="M1531.2,472.8 L1531.2,529 L1514,550 L1514,639.5 L1532,659 L1531.2,659 L1531.2,715" fill="none" stroke="#808080" stroke-width="1.6"/><g transform="translate(1390.3 593.5)"><path d="M0,-1 L6,-10 L124,-10 L124,11 L6,11 L0,1 Z" fill="#fff"/><path d="M6,0 Q14,-2 20,-4.5 L22,-4.5 L23,-7 L25,-7 L25,-4.5 L26.5,-4.5 L26.5,-6.5 L28,-6.5 L28,6.5 L26.5,6.5 L26.5,4.5 L25,4.5 L25,7 L23,7 L22,4.5 L20,4.5 Q14,2 6,0 Z" fill="#6e6e6e"/><path d="M69,-8 L125,-8 L125,8 L69,8 Z" fill="#d4d4d4"/><path d="M69,-8 L125,-8 M69,8 L125,8" stroke="#bdbdbd" stroke-width="1.2" stroke-dasharray="3 2"/><path d="M27.5,-9 L69,-9 L69,-4.4 L116,-4.4 Q119.5,-4.4 119,-2 Q118,0 119,2 Q119.5,4.4 116,4.4 L69,4.4 L69,9 L27.5,9 Z" fill="#f24a4a"/><path d="M34,-9.5 L34,-7.5 M45,-9.5 L45,-7.5 M56,-9.5 L56,-7.5 M66,-9.5 L66,-7.5 M34,7.5 L34,9.5 M45,7.5 L45,9.5 M56,7.5 L56,9.5 M66,7.5 L66,9.5" stroke="#fff" stroke-width="2.2"/><path d="M42,-5 Q38.5,0 42,5" stroke="#f7c4c4" stroke-width="1.6" fill="none"/><path d="M47.5,-5 Q44.0,0 47.5,5" stroke="#f7c4c4" stroke-width="1.6" fill="none"/><path d="M53.5,-5 Q50.0,0 53.5,5" stroke="#f7c4c4" stroke-width="1.6" fill="none"/><path d="M59.5,-5 Q56.0,0 59.5,5" stroke="#f7c4c4" stroke-width="1.6" fill="none"/><text x="74" y="3" font-family="Liberation Sans" font-size="8" fill="#9a2a2a" textLength="25" lengthAdjust="spacingAndGlyphs">fischer</text><rect x="100" y="-1.6" width="13" height="3.6" fill="none" stroke="#b04040" stroke-width="0.7" stroke-dasharray="1.5 1"/><rect x="124" y="-3.5" width="16" height="7" fill="#6a6a6a"/><path d="M125.0,-6 Q127.0,-6.5 128.0,-5 L128.0,5 Q127.0,6.5 125.0,6 Z" fill="#5a5a5a"/><path d="M129.2,-6 Q131.2,-6.5 132.2,-5 L132.2,5 Q131.2,6.5 129.2,6 Z" fill="#5a5a5a"/><path d="M133.4,-6 Q135.4,-6.5 136.4,-5 L136.4,5 Q135.4,6.5 133.4,6 Z" fill="#5a5a5a"/><path d="M136.5,-4 Q144,-6 149.5,-11.5 Q153,-11 153,0 Q153,11 149.5,11.5 Q144,6 136.5,4 Z" fill="#777"/></g><path d="M1526.2,564.5 L1532.2,558.3 L1544.2,562.8 L1554.5,572.6 L1551.9,575.1 L1539.0,577.0 L1533.8,575.1 Z" fill="#f87d32"/><path d="M1539.5,579.2 L1554.1,575.7 L1566.1,588.1 L1547.2,589.0 Z" fill="#f87d32"/><path d="M1544.9,591.0 L1565.4,591.9 L1564.6,606.0 L1546.6,603.4 Z" fill="#f87d32"/><path d="M1539.8,610.9 L1547.5,604.7 L1561.2,610.0 L1556.1,618.0 L1545.9,617.1 Z" fill="#f87d32"/><path d="M1530.0,621.1 L1536.9,614.0 L1554.1,620.2 L1548.9,628.2 L1542.0,628.2 Z" fill="#f87d32"/><clipPath id="cc1730_152"><circle cx="1730.2" cy="152.9" r="78"/></clipPath><circle cx="1730.2" cy="152.9" r="78" fill="#fff"/><g clip-path="url(#cc1730_152)"><rect x="1650.2" y="72.9" width="80.2" height="48.6" fill="#6e4450" /><rect x="1650.2" y="182.8" width="80.2" height="50.1" fill="#6e4450" /><rect x="1650.2" y="121.5" width="80.2" height="61.3" fill="#d9d9d9" /><path d="M1659.4,121.30000000000001 L1679.4,121.30000000000001 L1673.4,126.60000000000001 L1659.4,126.60000000000001 Z M1659.4,183.0 L1679.4,183.0 L1673.4,177.0 L1659.4,177.0 Z" fill="#fff"/><rect x="1730.4" y="115.7" width="6.4" height="73.3" fill="#d9d9d9" /><path d="M1650.2,143.0 L1703.7,143.0 Q1707.7,143.0 1706.7,148.9 Q1704.7,151.9 1706.7,154.9 Q1707.7,160.6 1703.7,160.6 L1650.2,160.6 Z" fill="#f87272"/><text x="1667.6000000000001" y="158.0" font-family="Liberation Sans" font-weight="bold" font-size="16" fill="#c85a5a" text-anchor="end">fischer</text><rect x="1671.8000000000002" y="149.20000000000002" width="21.6" height="8.3" fill="none" stroke="#c06060" stroke-width="1.2" stroke-dasharray="2.5 1.2"/></g><circle cx="1730.2" cy="152.9" r="78" fill="none" stroke="#5fd35f" stroke-width="3.6"/><clipPath id="cc1730_326"><circle cx="1730.2" cy="326.4" r="78"/></clipPath><circle cx="1730.2" cy="326.4" r="78" fill="#fff"/><g clip-path="url(#cc1730_326)"><rect x="1650.2" y="246.4" width="80.2" height="48.6" fill="#6e4450" /><rect x="1650.2" y="356.3" width="80.2" height="50.1" fill="#6e4450" /><rect x="1650.2" y="295.0" width="97.7" height="61.3" fill="#d9d9d9" /><path d="M1676.9,294.79999999999995 L1696.9,294.79999999999995 L1690.9,300.09999999999997 L1676.9,300.09999999999997 Z M1676.9,356.5 L1696.9,356.5 L1690.9,350.5 L1676.9,350.5 Z" fill="#fff"/><rect x="1747.9" y="289.2" width="6.4" height="73.3" fill="#d9d9d9" /><path d="M1650.2,316.5 L1721.2,316.5 Q1725.2,316.5 1724.2,322.4 Q1722.2,325.4 1724.2,328.4 Q1725.2,334.09999999999997 1721.2,334.09999999999997 L1650.2,334.09999999999997 Z" fill="#f87272"/><text x="1685.1000000000001" y="331.5" font-family="Liberation Sans" font-weight="bold" font-size="16" fill="#c85a5a" text-anchor="end">fischer</text><rect x="1689.3000000000002" y="322.7" width="21.6" height="8.3" fill="none" stroke="#c06060" stroke-width="1.2" stroke-dasharray="2.5 1.2"/></g><circle cx="1730.2" cy="326.4" r="78" fill="none" stroke="#e4575e" stroke-width="3.6"/><clipPath id="cc1730_500"><circle cx="1730.2" cy="500" r="78"/></clipPath><circle cx="1730.2" cy="500" r="78" fill="#fff"/><g clip-path="url(#cc1730_500)"><rect x="1650.2" y="420.0" width="80.2" height="48.6" fill="#6e4450" /><rect x="1650.2" y="529.9" width="80.2" height="50.1" fill="#6e4450" /><rect x="1650.2" y="468.6" width="80.2" height="61.3" fill="#d9d9d9" /><path d="M1659.4,468.4 L1679.4,468.4 L1673.4,473.7 L1659.4,473.7 Z M1659.4,530.1 L1679.4,530.1 L1673.4,524.1 L1659.4,524.1 Z" fill="#fff"/><rect x="1730.4" y="462.8" width="6.4" height="73.3" fill="#d9d9d9" /><path d="M1650.2,490.1 L1703.7,490.1 Q1707.7,490.1 1706.7,496 Q1704.7,499 1706.7,502 Q1707.7,507.7 1703.7,507.7 L1650.2,507.7 Z" fill="#f87272"/><text x="1667.6000000000001" y="505.1" font-family="Liberation Sans" font-weight="bold" font-size="16" fill="#c85a5a" text-anchor="end">fischer</text><rect x="1671.8000000000002" y="496.3" width="21.6" height="8.3" fill="none" stroke="#c06060" stroke-width="1.2" stroke-dasharray="2.5 1.2"/><path d="M1737.6000000000001,478 L1748.8000000000002,465 Q1761.8000000000002,464 1762.3000000000002,498 Q1761.8000000000002,531 1750.8000000000002,533.3 L1737.6000000000001,521 Z" fill="#9c9c9c"/></g><circle cx="1730.2" cy="500" r="78" fill="none" stroke="#5fd35f" stroke-width="3.6"/><clipPath id="cc1739_673"><circle cx="1739.9" cy="673.6" r="78"/></clipPath><circle cx="1739.9" cy="673.6" r="78" fill="#fff"/><g clip-path="url(#cc1739_673)"><rect x="1659.9" y="593.6" width="79.9" height="48.6" fill="#6e4450" /><rect x="1659.9" y="703.5" width="79.9" height="50.1" fill="#6e4450" /><rect x="1659.9" y="642.2" width="79.9" height="61.3" fill="#d9d9d9" /><path d="M1668.8,642.0 L1688.8,642.0 L1682.8,647.3000000000001 L1668.8,647.3000000000001 Z M1668.8,703.7 L1688.8,703.7 L1682.8,697.7 L1668.8,697.7 Z" fill="#fff"/><rect x="1739.8" y="636.4" width="6.4" height="73.3" fill="#d9d9d9" /><path d="M1659.9,663.7 L1713.1,663.7 Q1717.1,663.7 1716.1,669.6 Q1714.1,672.6 1716.1,675.6 Q1717.1,681.3000000000001 1713.1,681.3000000000001 L1659.9,681.3000000000001 Z" fill="#f87272"/><text x="1677.0" y="678.7" font-family="Liberation Sans" font-weight="bold" font-size="16" fill="#c85a5a" text-anchor="end">fischer</text><rect x="1681.2" y="669.9" width="21.6" height="8.3" fill="none" stroke="#c06060" stroke-width="1.2" stroke-dasharray="2.5 1.2"/><path d="M1746.2,658.6 Q1752.2,653.6 1757.2,659.6 L1764.2,660.6 Q1780.2,653.6 1789.2,639.6 Q1799.2,643.6 1799.2,673.6 Q1799.2,703.6 1789.2,705.6 Q1780.2,693.6 1764.2,688.6 L1757.2,689.6 Q1751.2,692.6 1746.2,691.6 Z" fill="#9c9c9c"/><path d="M1750.2,657.6 Q1755.2,673.6 1751.2,690.6 M1757.2,659.6 Q1762.2,673.6 1758.2,689.6" stroke="#858585" stroke-width="2" fill="none"/></g><circle cx="1739.9" cy="673.6" r="78" fill="none" stroke="#e4575e" stroke-width="3.6"/><path d="M1827.4,138.5 L1831.8,131.9 L1842.7,135.2 L1854.7,136.3 L1866.7,172.2 L1929.9,102.5 L1938.6,103.6 L1949.5,106.9 L1947.3,114.5 L1871.0,202.8 L1868.9,203.9 L1847.1,193.0 L1836.2,160.3 Z" fill="#5fd35f"/><path d="M1827.4,485.2 L1831.8,478.6 L1842.7,481.9 L1854.7,483.0 L1866.7,518.9 L1929.9,449.2 L1938.6,450.3 L1949.5,453.6 L1947.3,461.2 L1871.0,549.5 L1868.9,550.6 L1847.1,539.7 L1836.2,507.0 Z" fill="#5fd35f"/><path d="M1845.2,289.6 L1849.0,288.3 L1852.0,288.8 L1856.0,286.5 L1861.7,284.5 L1885.2,314.4 L1896.0,299.0 L1902.4,294.1 L1905.0,293.4 L1911.3,289.6 L1922.7,287.7 L1924.5,289.5 L1923.5,292.0 L1927.8,294.1 L1897.3,329.7 L1918.9,362.7 L1914.0,364.0 L1909.0,367.5 L1901.7,369.7 L1883.3,347.5 L1872.0,357.0 L1866.8,361.4 L1860.0,363.0 L1854.1,366.5 L1851.0,363.0 L1848.3,357.6 L1871.9,330.9 L1852.0,302.0 L1846.5,294.0 Z" fill="#e4575e"/><path d="M1845.2,634.6 L1849.0,633.3 L1852.0,633.8 L1856.0,631.5 L1861.7,629.5 L1885.2,659.4 L1896.0,644.0 L1902.4,639.1 L1905.0,638.4 L1911.3,634.6 L1922.7,632.7 L1924.5,634.5 L1923.5,637.0 L1927.8,639.1 L1897.3,674.7 L1918.9,707.7 L1914.0,709.0 L1909.0,712.5 L1901.7,714.7 L1883.3,692.5 L1872.0,702.0 L1866.8,706.4 L1860.0,708.0 L1854.1,711.5 L1851.0,708.0 L1848.3,702.6 L1871.9,675.9 L1852.0,647.0 L1846.5,639.0 Z" fill="#e4575e"/>
</svg></body></html>
